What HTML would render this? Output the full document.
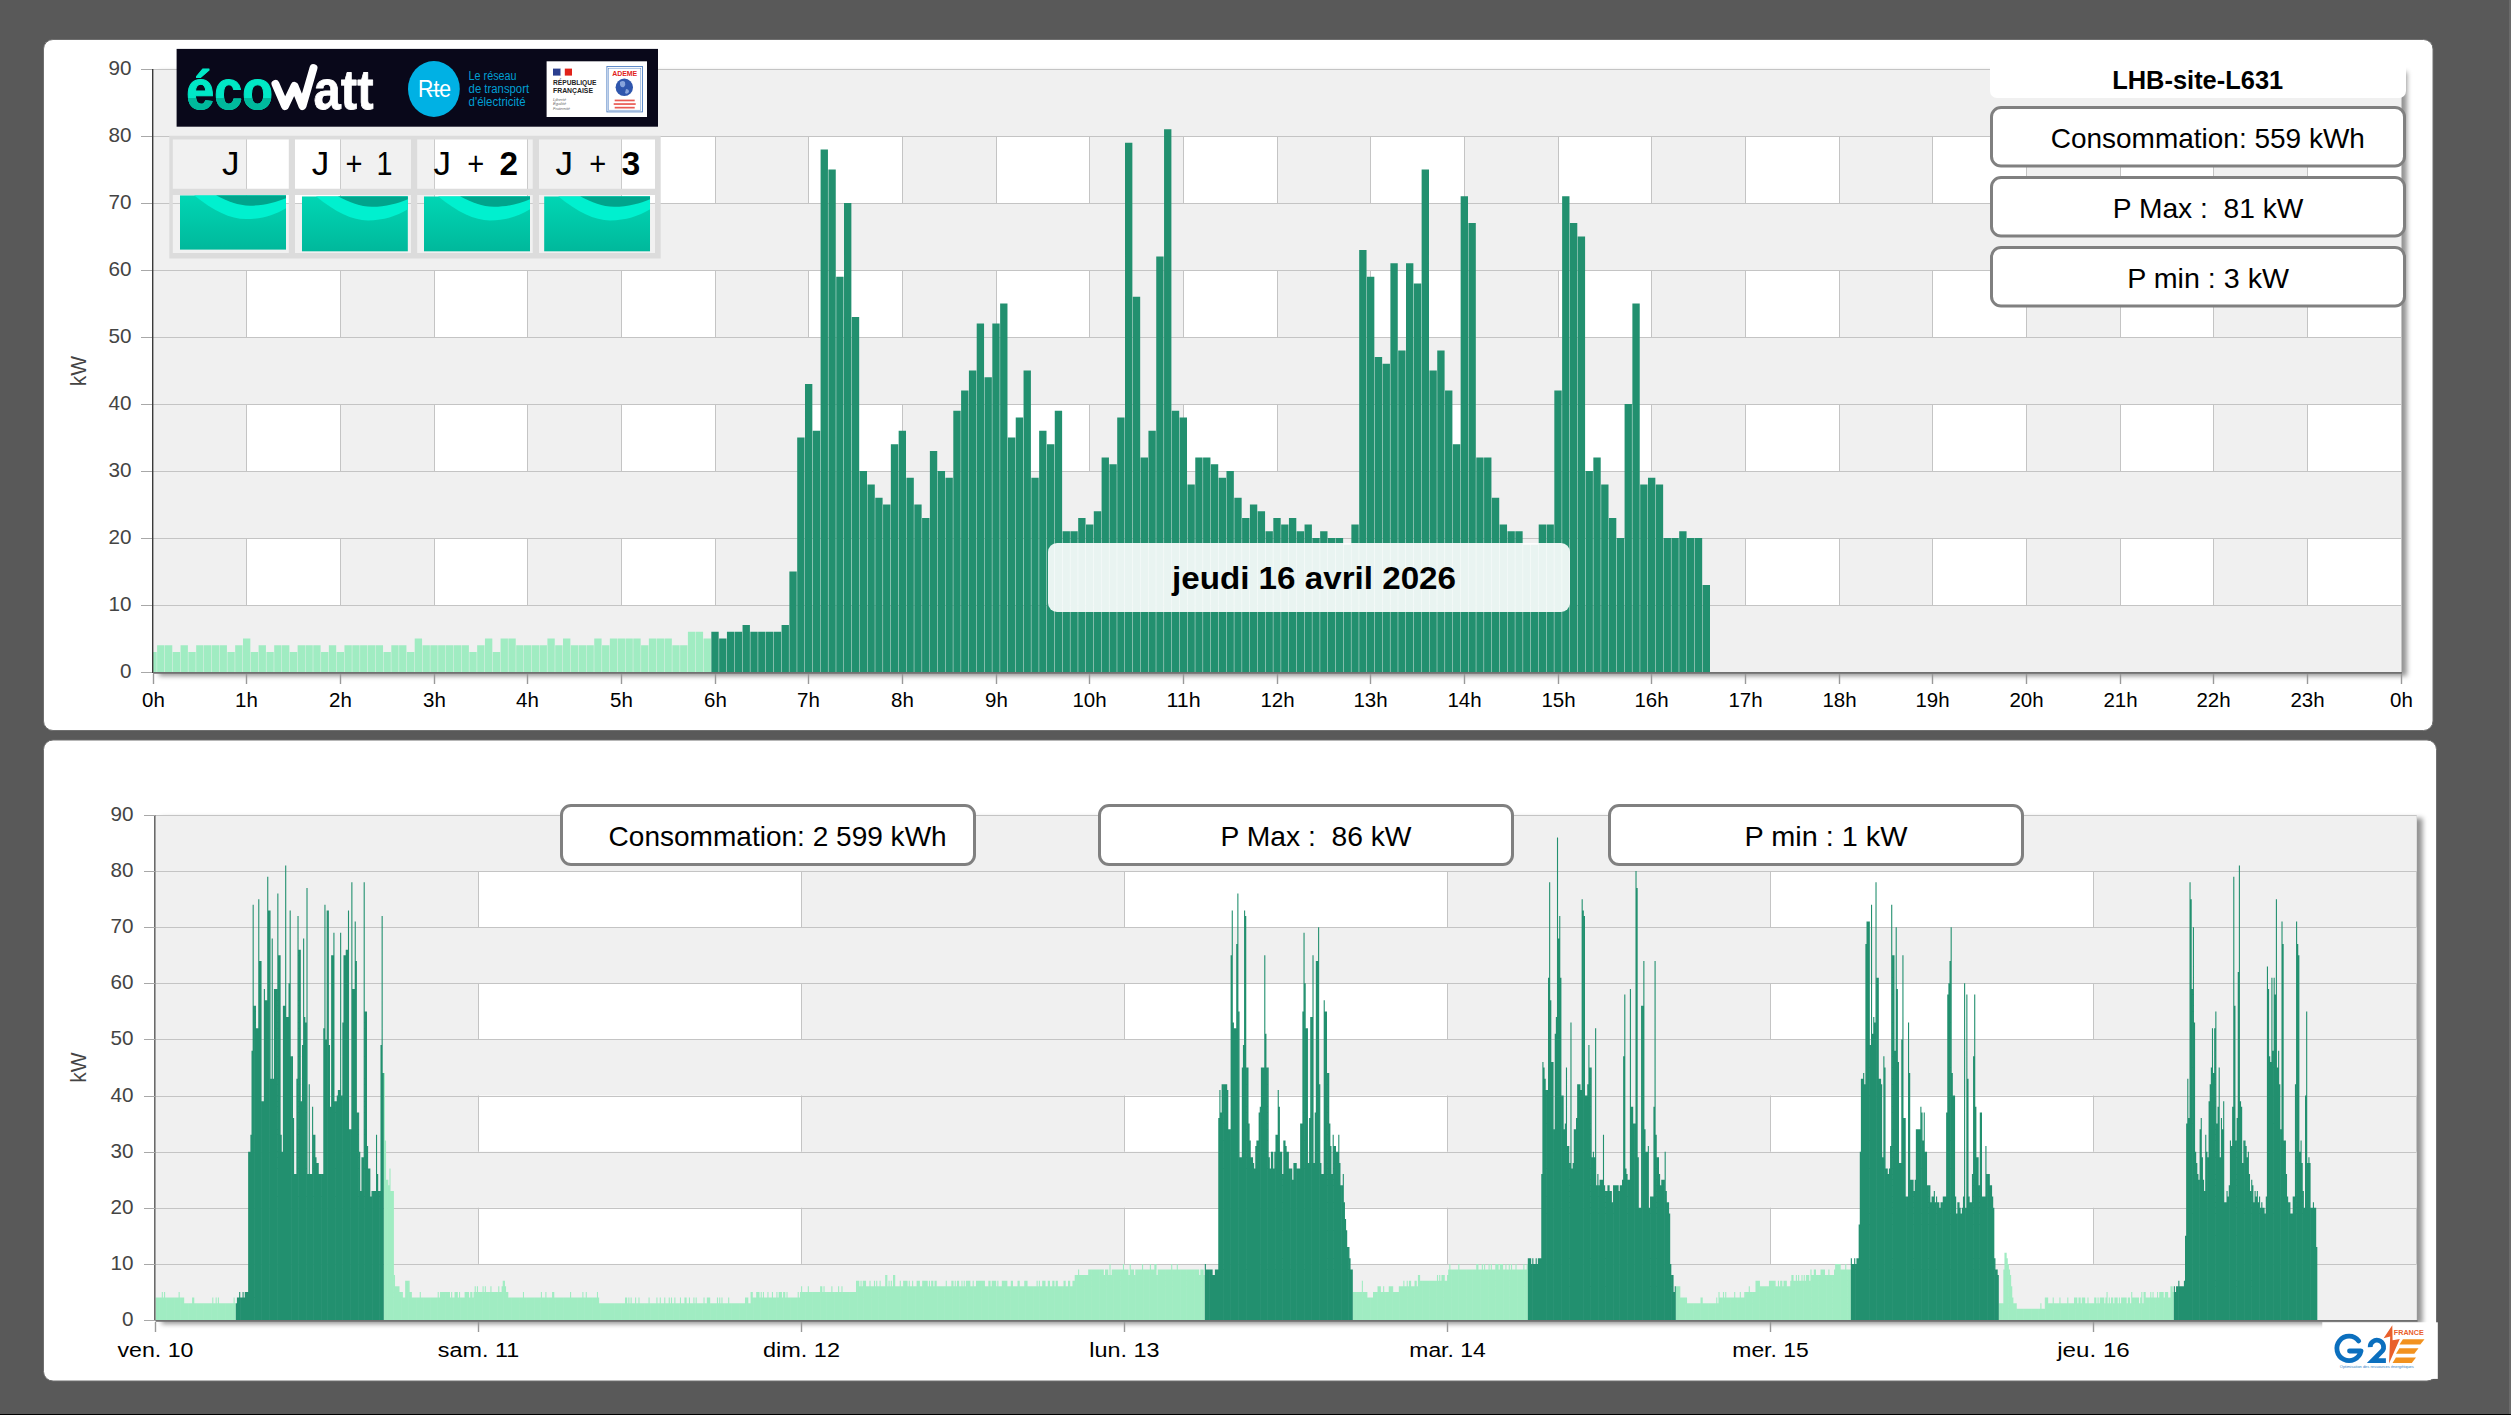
<!DOCTYPE html>
<html><head><meta charset="utf-8"><title>Dashboard</title>
<style>
html,body{margin:0;padding:0;background:#595959;width:2511px;height:1415px;overflow:hidden}
body>svg{position:absolute;left:0;top:0;display:block}
text{font-family:"Liberation Sans",sans-serif}
</style></head><body>
<svg width="2511" height="1415" viewBox="0 0 2511 1415">
<defs>
<linearGradient id="shb" x1="0" y1="0" x2="0" y2="1"><stop offset="0" stop-color="#000" stop-opacity="0.45"/><stop offset="0.35" stop-color="#000" stop-opacity="0.16"/><stop offset="1" stop-color="#000" stop-opacity="0"/></linearGradient>
<linearGradient id="shr" x1="0" y1="0" x2="1" y2="0"><stop offset="0" stop-color="#000" stop-opacity="0.45"/><stop offset="0.35" stop-color="#000" stop-opacity="0.16"/><stop offset="1" stop-color="#000" stop-opacity="0"/></linearGradient>
<linearGradient id="teal" x1="0" y1="0" x2="0" y2="1"><stop offset="0" stop-color="#00d6b4"/><stop offset="1" stop-color="#00b89b"/></linearGradient>
<filter id="blur" x="-2%" y="-5%" width="104%" height="110%"><feGaussianBlur stdDeviation="2.5"/></filter>
<clipPath id="c1"><rect x="153" y="60" width="2248" height="612.5"/></clipPath>
<clipPath id="c2"><rect x="155.6" y="800" width="2261" height="520.5"/></clipPath>
</defs>
<rect x="0" y="0" width="2511" height="1415" fill="#595959"/>
<rect x="2509" y="0" width="2" height="1415" fill="#6a6a6a"/>
<rect x="0" y="1414" width="2511" height="1" fill="#000"/>
<rect x="43.5" y="39.5" width="2389.5" height="691" rx="9.5" fill="#fff" stroke="#6f6f6f" stroke-width="1"/>
<rect x="43.5" y="740" width="2393" height="641" rx="9.5" fill="#fff" stroke="#6f6f6f" stroke-width="1"/>

<rect x="159" y="72" width="2248" height="604" fill="#000" fill-opacity="0.42" filter="url(#blur)"/>
<rect x="153" y="69" width="2248" height="603" fill="#fff"/>
<rect x="153.00" y="69" width="93.67" height="603" fill="#f0f0f0"/>
<rect x="340.33" y="69" width="93.67" height="603" fill="#f0f0f0"/>
<rect x="527.67" y="69" width="93.67" height="603" fill="#f0f0f0"/>
<rect x="715.00" y="69" width="93.67" height="603" fill="#f0f0f0"/>
<rect x="902.33" y="69" width="93.67" height="603" fill="#f0f0f0"/>
<rect x="1089.67" y="69" width="93.67" height="603" fill="#f0f0f0"/>
<rect x="1277.00" y="69" width="93.67" height="603" fill="#f0f0f0"/>
<rect x="1464.33" y="69" width="93.67" height="603" fill="#f0f0f0"/>
<rect x="1651.67" y="69" width="93.67" height="603" fill="#f0f0f0"/>
<rect x="1839.00" y="69" width="93.67" height="603" fill="#f0f0f0"/>
<rect x="2026.33" y="69" width="93.67" height="603" fill="#f0f0f0"/>
<rect x="2213.67" y="69" width="93.67" height="603" fill="#f0f0f0"/>
<line x1="246.5" y1="69" x2="246.5" y2="672" stroke="#c4c4c4" stroke-width="1"/>
<line x1="340.5" y1="69" x2="340.5" y2="672" stroke="#c4c4c4" stroke-width="1"/>
<line x1="434.5" y1="69" x2="434.5" y2="672" stroke="#c4c4c4" stroke-width="1"/>
<line x1="527.5" y1="69" x2="527.5" y2="672" stroke="#c4c4c4" stroke-width="1"/>
<line x1="621.5" y1="69" x2="621.5" y2="672" stroke="#c4c4c4" stroke-width="1"/>
<line x1="715.5" y1="69" x2="715.5" y2="672" stroke="#c4c4c4" stroke-width="1"/>
<line x1="808.5" y1="69" x2="808.5" y2="672" stroke="#c4c4c4" stroke-width="1"/>
<line x1="902.5" y1="69" x2="902.5" y2="672" stroke="#c4c4c4" stroke-width="1"/>
<line x1="996.5" y1="69" x2="996.5" y2="672" stroke="#c4c4c4" stroke-width="1"/>
<line x1="1089.5" y1="69" x2="1089.5" y2="672" stroke="#c4c4c4" stroke-width="1"/>
<line x1="1183.5" y1="69" x2="1183.5" y2="672" stroke="#c4c4c4" stroke-width="1"/>
<line x1="1277.5" y1="69" x2="1277.5" y2="672" stroke="#c4c4c4" stroke-width="1"/>
<line x1="1370.5" y1="69" x2="1370.5" y2="672" stroke="#c4c4c4" stroke-width="1"/>
<line x1="1464.5" y1="69" x2="1464.5" y2="672" stroke="#c4c4c4" stroke-width="1"/>
<line x1="1558.5" y1="69" x2="1558.5" y2="672" stroke="#c4c4c4" stroke-width="1"/>
<line x1="1651.5" y1="69" x2="1651.5" y2="672" stroke="#c4c4c4" stroke-width="1"/>
<line x1="1745.5" y1="69" x2="1745.5" y2="672" stroke="#c4c4c4" stroke-width="1"/>
<line x1="1839.5" y1="69" x2="1839.5" y2="672" stroke="#c4c4c4" stroke-width="1"/>
<line x1="1932.5" y1="69" x2="1932.5" y2="672" stroke="#c4c4c4" stroke-width="1"/>
<line x1="2026.5" y1="69" x2="2026.5" y2="672" stroke="#c4c4c4" stroke-width="1"/>
<line x1="2120.5" y1="69" x2="2120.5" y2="672" stroke="#c4c4c4" stroke-width="1"/>
<line x1="2213.5" y1="69" x2="2213.5" y2="672" stroke="#c4c4c4" stroke-width="1"/>
<line x1="2307.5" y1="69" x2="2307.5" y2="672" stroke="#c4c4c4" stroke-width="1"/>
<line x1="2401.5" y1="69" x2="2401.5" y2="672" stroke="#c4c4c4" stroke-width="1"/>
<rect x="153" y="605.00" width="2248" height="67.00" fill="#f0f0f0"/>
<rect x="153" y="471.00" width="2248" height="67.00" fill="#f0f0f0"/>
<rect x="153" y="337.00" width="2248" height="67.00" fill="#f0f0f0"/>
<rect x="153" y="203.00" width="2248" height="67.00" fill="#f0f0f0"/>
<rect x="153" y="69.00" width="2248" height="67.00" fill="#f0f0f0"/>
<line x1="153" y1="605.5" x2="2401" y2="605.5" stroke="#c4c4c4" stroke-width="1"/>
<line x1="153" y1="538.5" x2="2401" y2="538.5" stroke="#c4c4c4" stroke-width="1"/>
<line x1="153" y1="471.5" x2="2401" y2="471.5" stroke="#c4c4c4" stroke-width="1"/>
<line x1="153" y1="404.5" x2="2401" y2="404.5" stroke="#c4c4c4" stroke-width="1"/>
<line x1="153" y1="337.5" x2="2401" y2="337.5" stroke="#c4c4c4" stroke-width="1"/>
<line x1="153" y1="270.5" x2="2401" y2="270.5" stroke="#c4c4c4" stroke-width="1"/>
<line x1="153" y1="203.5" x2="2401" y2="203.5" stroke="#c4c4c4" stroke-width="1"/>
<line x1="153" y1="136.5" x2="2401" y2="136.5" stroke="#c4c4c4" stroke-width="1"/>
<line x1="153" y1="69.5" x2="2401" y2="69.5" stroke="#c4c4c4" stroke-width="1"/>
<g clip-path="url(#c1)">
<path d="M149.32 672V651.90h7.35V672zM157.13 672V645.20h7.35V672zM164.94 672V645.20h7.35V672zM172.74 672V651.90h7.35V672zM180.55 672V645.20h7.35V672zM188.35 672V651.90h7.35V672zM196.16 672V645.20h7.35V672zM203.96 672V645.20h7.35V672zM211.77 672V645.20h7.35V672zM219.57 672V645.20h7.35V672zM227.38 672V651.90h7.35V672zM235.19 672V645.20h7.35V672zM242.99 672V638.50h7.35V672zM250.80 672V651.90h7.35V672zM258.60 672V645.20h7.35V672zM266.41 672V651.90h7.35V672zM274.21 672V645.20h7.35V672zM282.02 672V645.20h7.35V672zM289.82 672V651.90h7.35V672zM297.63 672V645.20h7.35V672zM305.44 672V645.20h7.35V672zM313.24 672V645.20h7.35V672zM321.05 672V651.90h7.35V672zM328.85 672V645.20h7.35V672zM336.66 672V651.90h7.35V672zM344.46 672V645.20h7.35V672zM352.27 672V645.20h7.35V672zM360.07 672V645.20h7.35V672zM367.88 672V645.20h7.35V672zM375.69 672V645.20h7.35V672zM383.49 672V651.90h7.35V672zM391.30 672V645.20h7.35V672zM399.10 672V645.20h7.35V672zM406.91 672V651.90h7.35V672zM414.71 672V638.50h7.35V672zM422.52 672V645.20h7.35V672zM430.32 672V645.20h7.35V672zM438.13 672V645.20h7.35V672zM445.94 672V645.20h7.35V672zM453.74 672V645.20h7.35V672zM461.55 672V645.20h7.35V672zM469.35 672V651.90h7.35V672zM477.16 672V645.20h7.35V672zM484.96 672V638.50h7.35V672zM492.77 672V651.90h7.35V672zM500.57 672V638.50h7.35V672zM508.38 672V638.50h7.35V672zM516.19 672V645.20h7.35V672zM523.99 672V645.20h7.35V672zM531.80 672V645.20h7.35V672zM539.60 672V645.20h7.35V672zM547.41 672V638.50h7.35V672zM555.21 672V645.20h7.35V672zM563.02 672V638.50h7.35V672zM570.83 672V645.20h7.35V672zM578.63 672V645.20h7.35V672zM586.44 672V645.20h7.35V672zM594.24 672V638.50h7.35V672zM602.05 672V645.20h7.35V672zM609.85 672V638.50h7.35V672zM617.66 672V638.50h7.35V672zM625.46 672V638.50h7.35V672zM633.27 672V638.50h7.35V672zM641.08 672V645.20h7.35V672zM648.88 672V638.50h7.35V672zM656.69 672V638.50h7.35V672zM664.49 672V638.50h7.35V672zM672.30 672V645.20h7.35V672zM680.10 672V645.20h7.35V672zM687.91 672V631.80h7.35V672zM695.71 672V631.80h7.35V672zM703.52 672V638.50h7.35V672z" fill="#a0ecc2"/>
<path d="M711.33 672V631.80h7.35V672zM719.13 672V638.50h7.35V672zM726.94 672V631.80h7.35V672zM734.74 672V631.80h7.35V672zM742.55 672V625.10h7.35V672zM750.35 672V631.80h7.35V672zM758.16 672V631.80h7.35V672zM765.96 672V631.80h7.35V672zM773.77 672V631.80h7.35V672zM781.58 672V625.10h7.35V672zM789.38 672V571.50h7.35V672zM797.19 672V437.50h7.35V672zM804.99 672V383.90h7.35V672zM812.80 672V430.80h7.35V672zM820.60 672V149.40h7.35V672zM828.41 672V169.50h7.35V672zM836.21 672V276.70h7.35V672zM844.02 672V203.00h7.35V672zM851.83 672V316.90h7.35V672zM859.63 672V471.00h7.35V672zM867.44 672V484.40h7.35V672zM875.24 672V497.80h7.35V672zM883.05 672V504.50h7.35V672zM890.85 672V444.20h7.35V672zM898.66 672V430.80h7.35V672zM906.46 672V477.70h7.35V672zM914.27 672V504.50h7.35V672zM922.08 672V517.90h7.35V672zM929.88 672V450.90h7.35V672zM937.69 672V471.00h7.35V672zM945.49 672V477.70h7.35V672zM953.30 672V410.70h7.35V672zM961.10 672V390.60h7.35V672zM968.91 672V370.50h7.35V672zM976.71 672V323.60h7.35V672zM984.52 672V377.20h7.35V672zM992.33 672V323.60h7.35V672zM1000.13 672V303.50h7.35V672zM1007.94 672V437.50h7.35V672zM1015.74 672V417.40h7.35V672zM1023.55 672V370.50h7.35V672zM1031.35 672V477.70h7.35V672zM1039.16 672V430.80h7.35V672zM1046.96 672V444.20h7.35V672zM1054.77 672V410.70h7.35V672zM1062.58 672V531.30h7.35V672zM1070.38 672V531.30h7.35V672zM1078.19 672V517.90h7.35V672zM1085.99 672V524.60h7.35V672zM1093.80 672V511.20h7.35V672zM1101.60 672V457.60h7.35V672zM1109.41 672V464.30h7.35V672zM1117.21 672V417.40h7.35V672zM1125.02 672V142.70h7.35V672zM1132.83 672V296.80h7.35V672zM1140.63 672V457.60h7.35V672zM1148.44 672V430.80h7.35V672zM1156.24 672V256.60h7.35V672zM1164.05 672V129.30h7.35V672zM1171.85 672V410.70h7.35V672zM1179.66 672V417.40h7.35V672zM1187.46 672V484.40h7.35V672zM1195.27 672V457.60h7.35V672zM1203.08 672V457.60h7.35V672zM1210.88 672V464.30h7.35V672zM1218.69 672V477.70h7.35V672zM1226.49 672V471.00h7.35V672zM1234.30 672V497.80h7.35V672zM1242.10 672V517.90h7.35V672zM1249.91 672V504.50h7.35V672zM1257.71 672V511.20h7.35V672zM1265.52 672V531.30h7.35V672zM1273.33 672V517.90h7.35V672zM1281.13 672V524.60h7.35V672zM1288.94 672V517.90h7.35V672zM1296.74 672V531.30h7.35V672zM1304.55 672V524.60h7.35V672zM1312.35 672V538.00h7.35V672zM1320.16 672V531.30h7.35V672zM1327.96 672V538.00h7.35V672zM1335.77 672V538.00h7.35V672zM1343.58 672V544.70h7.35V672zM1351.38 672V524.60h7.35V672zM1359.19 672V249.90h7.35V672zM1366.99 672V276.70h7.35V672zM1374.80 672V357.10h7.35V672zM1382.60 672V363.80h7.35V672zM1390.41 672V263.30h7.35V672zM1398.21 672V350.40h7.35V672zM1406.02 672V263.30h7.35V672zM1413.83 672V283.40h7.35V672zM1421.63 672V169.50h7.35V672zM1429.44 672V370.50h7.35V672zM1437.24 672V350.40h7.35V672zM1445.05 672V390.60h7.35V672zM1452.85 672V444.20h7.35V672zM1460.66 672V196.30h7.35V672zM1468.46 672V223.10h7.35V672zM1476.27 672V457.60h7.35V672zM1484.08 672V457.60h7.35V672zM1491.88 672V497.80h7.35V672zM1499.69 672V524.60h7.35V672zM1507.49 672V531.30h7.35V672zM1515.30 672V531.30h7.35V672zM1523.10 672V544.70h7.35V672zM1530.91 672V544.70h7.35V672zM1538.71 672V524.60h7.35V672zM1546.52 672V524.60h7.35V672zM1554.33 672V390.60h7.35V672zM1562.13 672V196.30h7.35V672zM1569.94 672V223.10h7.35V672zM1577.74 672V236.50h7.35V672zM1585.55 672V471.00h7.35V672zM1593.35 672V457.60h7.35V672zM1601.16 672V484.40h7.35V672zM1608.96 672V517.90h7.35V672zM1616.77 672V538.00h7.35V672zM1624.58 672V404.00h7.35V672zM1632.38 672V303.50h7.35V672zM1640.19 672V484.40h7.35V672zM1647.99 672V477.70h7.35V672zM1655.80 672V484.40h7.35V672zM1663.60 672V538.00h7.35V672zM1671.41 672V538.00h7.35V672zM1679.21 672V531.30h7.35V672zM1687.02 672V538.00h7.35V672zM1694.83 672V538.00h7.35V672zM1702.63 672V584.90h7.35V672z" fill="#22906f"/>
</g>
<line x1="152.7" y1="69" x2="152.7" y2="673" stroke="#3a3a3a" stroke-width="1.4"/>
<line x1="153" y1="672.9" x2="2402" y2="672.9" stroke="#707070" stroke-width="1.8"/>
<line x1="141" y1="672.5" x2="152" y2="672.5" stroke="#a8a8a8" stroke-width="1"/>
<text x="131.5" y="678.3" font-size="19.8" fill="#444" text-anchor="end" textLength="11.5" lengthAdjust="spacingAndGlyphs">0</text>
<line x1="141" y1="605.5" x2="152" y2="605.5" stroke="#a8a8a8" stroke-width="1"/>
<text x="131.5" y="611.3" font-size="19.8" fill="#444" text-anchor="end" textLength="23" lengthAdjust="spacingAndGlyphs">10</text>
<line x1="141" y1="538.5" x2="152" y2="538.5" stroke="#a8a8a8" stroke-width="1"/>
<text x="131.5" y="544.3" font-size="19.8" fill="#444" text-anchor="end" textLength="23" lengthAdjust="spacingAndGlyphs">20</text>
<line x1="141" y1="471.5" x2="152" y2="471.5" stroke="#a8a8a8" stroke-width="1"/>
<text x="131.5" y="477.3" font-size="19.8" fill="#444" text-anchor="end" textLength="23" lengthAdjust="spacingAndGlyphs">30</text>
<line x1="141" y1="404.5" x2="152" y2="404.5" stroke="#a8a8a8" stroke-width="1"/>
<text x="131.5" y="410.3" font-size="19.8" fill="#444" text-anchor="end" textLength="23" lengthAdjust="spacingAndGlyphs">40</text>
<line x1="141" y1="337.5" x2="152" y2="337.5" stroke="#a8a8a8" stroke-width="1"/>
<text x="131.5" y="343.3" font-size="19.8" fill="#444" text-anchor="end" textLength="23" lengthAdjust="spacingAndGlyphs">50</text>
<line x1="141" y1="270.5" x2="152" y2="270.5" stroke="#a8a8a8" stroke-width="1"/>
<text x="131.5" y="276.3" font-size="19.8" fill="#444" text-anchor="end" textLength="23" lengthAdjust="spacingAndGlyphs">60</text>
<line x1="141" y1="203.5" x2="152" y2="203.5" stroke="#a8a8a8" stroke-width="1"/>
<text x="131.5" y="209.3" font-size="19.8" fill="#444" text-anchor="end" textLength="23" lengthAdjust="spacingAndGlyphs">70</text>
<line x1="141" y1="136.5" x2="152" y2="136.5" stroke="#a8a8a8" stroke-width="1"/>
<text x="131.5" y="142.3" font-size="19.8" fill="#444" text-anchor="end" textLength="23" lengthAdjust="spacingAndGlyphs">80</text>
<line x1="141" y1="69.5" x2="152" y2="69.5" stroke="#a8a8a8" stroke-width="1"/>
<text x="131.5" y="75.3" font-size="19.8" fill="#444" text-anchor="end" textLength="23" lengthAdjust="spacingAndGlyphs">90</text>
<text transform="translate(86,371) rotate(-90)" font-size="22" fill="#444" text-anchor="middle" textLength="30.5" lengthAdjust="spacingAndGlyphs">kW</text>
<line x1="153.5" y1="674" x2="153.5" y2="684" stroke="#999" stroke-width="1.4"/>
<text x="153.5" y="706.9" font-size="19.6" fill="#000" text-anchor="middle" textLength="22.8" lengthAdjust="spacingAndGlyphs">0h</text>
<line x1="246.5" y1="674" x2="246.5" y2="684" stroke="#999" stroke-width="1.4"/>
<text x="246.5" y="706.9" font-size="19.6" fill="#000" text-anchor="middle" textLength="22.8" lengthAdjust="spacingAndGlyphs">1h</text>
<line x1="340.5" y1="674" x2="340.5" y2="684" stroke="#999" stroke-width="1.4"/>
<text x="340.5" y="706.9" font-size="19.6" fill="#000" text-anchor="middle" textLength="22.8" lengthAdjust="spacingAndGlyphs">2h</text>
<line x1="434.5" y1="674" x2="434.5" y2="684" stroke="#999" stroke-width="1.4"/>
<text x="434.5" y="706.9" font-size="19.6" fill="#000" text-anchor="middle" textLength="22.8" lengthAdjust="spacingAndGlyphs">3h</text>
<line x1="527.5" y1="674" x2="527.5" y2="684" stroke="#999" stroke-width="1.4"/>
<text x="527.5" y="706.9" font-size="19.6" fill="#000" text-anchor="middle" textLength="22.8" lengthAdjust="spacingAndGlyphs">4h</text>
<line x1="621.5" y1="674" x2="621.5" y2="684" stroke="#999" stroke-width="1.4"/>
<text x="621.5" y="706.9" font-size="19.6" fill="#000" text-anchor="middle" textLength="22.8" lengthAdjust="spacingAndGlyphs">5h</text>
<line x1="715.5" y1="674" x2="715.5" y2="684" stroke="#999" stroke-width="1.4"/>
<text x="715.5" y="706.9" font-size="19.6" fill="#000" text-anchor="middle" textLength="22.8" lengthAdjust="spacingAndGlyphs">6h</text>
<line x1="808.5" y1="674" x2="808.5" y2="684" stroke="#999" stroke-width="1.4"/>
<text x="808.5" y="706.9" font-size="19.6" fill="#000" text-anchor="middle" textLength="22.8" lengthAdjust="spacingAndGlyphs">7h</text>
<line x1="902.5" y1="674" x2="902.5" y2="684" stroke="#999" stroke-width="1.4"/>
<text x="902.5" y="706.9" font-size="19.6" fill="#000" text-anchor="middle" textLength="22.8" lengthAdjust="spacingAndGlyphs">8h</text>
<line x1="996.5" y1="674" x2="996.5" y2="684" stroke="#999" stroke-width="1.4"/>
<text x="996.5" y="706.9" font-size="19.6" fill="#000" text-anchor="middle" textLength="22.8" lengthAdjust="spacingAndGlyphs">9h</text>
<line x1="1089.5" y1="674" x2="1089.5" y2="684" stroke="#999" stroke-width="1.4"/>
<text x="1089.5" y="706.9" font-size="19.6" fill="#000" text-anchor="middle" textLength="34.2" lengthAdjust="spacingAndGlyphs">10h</text>
<line x1="1183.5" y1="674" x2="1183.5" y2="684" stroke="#999" stroke-width="1.4"/>
<text x="1183.5" y="706.9" font-size="19.6" fill="#000" text-anchor="middle" textLength="34.2" lengthAdjust="spacingAndGlyphs">11h</text>
<line x1="1277.5" y1="674" x2="1277.5" y2="684" stroke="#999" stroke-width="1.4"/>
<text x="1277.5" y="706.9" font-size="19.6" fill="#000" text-anchor="middle" textLength="34.2" lengthAdjust="spacingAndGlyphs">12h</text>
<line x1="1370.5" y1="674" x2="1370.5" y2="684" stroke="#999" stroke-width="1.4"/>
<text x="1370.5" y="706.9" font-size="19.6" fill="#000" text-anchor="middle" textLength="34.2" lengthAdjust="spacingAndGlyphs">13h</text>
<line x1="1464.5" y1="674" x2="1464.5" y2="684" stroke="#999" stroke-width="1.4"/>
<text x="1464.5" y="706.9" font-size="19.6" fill="#000" text-anchor="middle" textLength="34.2" lengthAdjust="spacingAndGlyphs">14h</text>
<line x1="1558.5" y1="674" x2="1558.5" y2="684" stroke="#999" stroke-width="1.4"/>
<text x="1558.5" y="706.9" font-size="19.6" fill="#000" text-anchor="middle" textLength="34.2" lengthAdjust="spacingAndGlyphs">15h</text>
<line x1="1651.5" y1="674" x2="1651.5" y2="684" stroke="#999" stroke-width="1.4"/>
<text x="1651.5" y="706.9" font-size="19.6" fill="#000" text-anchor="middle" textLength="34.2" lengthAdjust="spacingAndGlyphs">16h</text>
<line x1="1745.5" y1="674" x2="1745.5" y2="684" stroke="#999" stroke-width="1.4"/>
<text x="1745.5" y="706.9" font-size="19.6" fill="#000" text-anchor="middle" textLength="34.2" lengthAdjust="spacingAndGlyphs">17h</text>
<line x1="1839.5" y1="674" x2="1839.5" y2="684" stroke="#999" stroke-width="1.4"/>
<text x="1839.5" y="706.9" font-size="19.6" fill="#000" text-anchor="middle" textLength="34.2" lengthAdjust="spacingAndGlyphs">18h</text>
<line x1="1932.5" y1="674" x2="1932.5" y2="684" stroke="#999" stroke-width="1.4"/>
<text x="1932.5" y="706.9" font-size="19.6" fill="#000" text-anchor="middle" textLength="34.2" lengthAdjust="spacingAndGlyphs">19h</text>
<line x1="2026.5" y1="674" x2="2026.5" y2="684" stroke="#999" stroke-width="1.4"/>
<text x="2026.5" y="706.9" font-size="19.6" fill="#000" text-anchor="middle" textLength="34.2" lengthAdjust="spacingAndGlyphs">20h</text>
<line x1="2120.5" y1="674" x2="2120.5" y2="684" stroke="#999" stroke-width="1.4"/>
<text x="2120.5" y="706.9" font-size="19.6" fill="#000" text-anchor="middle" textLength="34.2" lengthAdjust="spacingAndGlyphs">21h</text>
<line x1="2213.5" y1="674" x2="2213.5" y2="684" stroke="#999" stroke-width="1.4"/>
<text x="2213.5" y="706.9" font-size="19.6" fill="#000" text-anchor="middle" textLength="34.2" lengthAdjust="spacingAndGlyphs">22h</text>
<line x1="2307.5" y1="674" x2="2307.5" y2="684" stroke="#999" stroke-width="1.4"/>
<text x="2307.5" y="706.9" font-size="19.6" fill="#000" text-anchor="middle" textLength="34.2" lengthAdjust="spacingAndGlyphs">23h</text>
<line x1="2401.5" y1="674" x2="2401.5" y2="684" stroke="#999" stroke-width="1.4"/>
<text x="2401.5" y="706.9" font-size="19.6" fill="#000" text-anchor="middle" textLength="22.8" lengthAdjust="spacingAndGlyphs">0h</text>
<rect x="1048" y="543" width="522" height="69" rx="9" fill="#fff" fill-opacity="0.9"/>
<text x="1314" y="588.5" font-size="31" font-weight="bold" fill="#000" text-anchor="middle" textLength="284" lengthAdjust="spacingAndGlyphs">jeudi 16 avril 2026</text>
<rect x="1990" y="60" width="416" height="38" rx="7" fill="#fff"/>
<text x="2197.7" y="88.7" font-size="25.5" font-weight="bold" fill="#000" text-anchor="middle" textLength="171" lengthAdjust="spacingAndGlyphs">LHB-site-L631</text>
<rect x="1991.5" y="107.5" width="413" height="58.5" rx="9.5" fill="#fff" stroke="#808080" stroke-width="3"/>
<text x="2050.7" y="147.7" font-size="28" fill="#000" textLength="314.2" lengthAdjust="spacingAndGlyphs" xml:space="preserve">Consommation: 559 kWh</text>
<rect x="1991.5" y="177.5" width="413" height="58.5" rx="9.5" fill="#fff" stroke="#808080" stroke-width="3"/>
<text x="2112.8" y="217.6" font-size="28" fill="#000" textLength="190.6" lengthAdjust="spacingAndGlyphs" xml:space="preserve">P Max :  81 kW</text>
<rect x="1991.5" y="247.5" width="413" height="58.5" rx="9.5" fill="#fff" stroke="#808080" stroke-width="3"/>
<text x="2127.2" y="287.6" font-size="28" fill="#000" textLength="161.8" lengthAdjust="spacingAndGlyphs" xml:space="preserve">P min : 3 kW</text>
<g>
<rect x="176.6" y="48.9" width="481.4" height="77.8" fill="#09081a"/>
<text x="186.3" y="109.3" font-size="55" font-weight="bold" fill="#00e8c6" stroke="#00e8c6" stroke-width="1.1" stroke-linejoin="round" textLength="86.5" lengthAdjust="spacingAndGlyphs">éco</text>
<clipPath id="ecl"><rect x="186" y="98" width="90" height="14"/></clipPath>
<text x="186.3" y="109.3" font-size="55" font-weight="bold" fill="#00b99c" stroke="#00b99c" stroke-width="1.1" stroke-linejoin="round" textLength="86.5" lengthAdjust="spacingAndGlyphs" clip-path="url(#ecl)">éco</text>
<path d="M275.5 84 L285 106 L294.5 86 L302.5 106 L313.5 68" fill="none" stroke="#fff" stroke-width="8" stroke-linecap="round" stroke-linejoin="round"/>
<text x="313.5" y="109.3" font-size="55" font-weight="bold" fill="#fff" stroke="#fff" stroke-width="0.8" stroke-linejoin="round" textLength="60" lengthAdjust="spacingAndGlyphs">att</text>
<ellipse cx="433.9" cy="89" rx="25.9" ry="28" fill="#00b1e4"/>
<text x="434.6" y="96.6" font-size="24.5" fill="#fff" text-anchor="middle" textLength="33" lengthAdjust="spacingAndGlyphs">Rte</text>
<line x1="427" y1="90.6" x2="441" y2="90.6" stroke="#fff" stroke-width="1.5"/>
<text x="468.6" y="79.6" font-size="12.5" fill="#009fd3" textLength="48" lengthAdjust="spacingAndGlyphs">Le réseau</text>
<text x="468.6" y="92.6" font-size="12.5" fill="#009fd3" textLength="60.5" lengthAdjust="spacingAndGlyphs">de transport</text>
<text x="468.6" y="105.6" font-size="12.5" fill="#009fd3" textLength="57" lengthAdjust="spacingAndGlyphs">d'électricité</text>
<rect x="546.6" y="61.3" width="100.4" height="55.7" fill="#fff"/>
<rect x="553" y="68.6" width="7.7" height="7" fill="#2b3f8f"/><rect x="560.7" y="68.6" width="4.1" height="7" fill="#fff"/><rect x="564.8" y="68.6" width="7.2" height="7" fill="#e1231a"/>
<text x="553" y="84.6" font-size="7.6" font-weight="bold" fill="#222" textLength="43.5" lengthAdjust="spacingAndGlyphs">RÉPUBLIQUE</text>
<text x="553" y="92.9" font-size="7.6" font-weight="bold" fill="#222" textLength="40" lengthAdjust="spacingAndGlyphs">FRANÇAISE</text>
<text x="553" y="100.5" font-size="4" font-style="italic" fill="#666" textLength="13" lengthAdjust="spacingAndGlyphs">Liberté</text>
<text x="553" y="105.1" font-size="4" font-style="italic" fill="#666" textLength="13" lengthAdjust="spacingAndGlyphs">Égalité</text>
<text x="553" y="109.7" font-size="4" font-style="italic" fill="#666" textLength="17" lengthAdjust="spacingAndGlyphs">Fraternité</text>
<rect x="606.9" y="66.5" width="35.6" height="45.4" fill="#fff" stroke="#4f7fc4" stroke-width="0.9"/>
<rect x="608.6" y="68.2" width="32.2" height="42" fill="none" stroke="#4f7fc4" stroke-width="0.5"/>
<text x="624.7" y="76" font-size="6.6" font-weight="bold" fill="#e1231a" text-anchor="middle" textLength="25" lengthAdjust="spacingAndGlyphs">ADEME</text>
<circle cx="624.3" cy="87.3" r="8.7" fill="#2f56ad"/>
<path d="M620 82q3-2 5 0q1 3-1 5q-3 1-4-2zM626 89q3 0 3 3q-2 3-4 1z" fill="#9db7e6" opacity="0.8"/>
<rect x="614.7" y="99.6" width="20" height="1.7" fill="#e1231a" opacity="0.75"/>
<rect x="613.7" y="103.2" width="22" height="1.7" fill="#e1231a" opacity="0.75"/>
<rect x="614.7" y="106.8" width="20" height="1.7" fill="#e1231a" opacity="0.75"/>
</g>
<path d="M169.3 135.7H660.7V258.5H169.3zM172.8 139.4H288.8V188.7H172.8zM172.8 194.9H288.8V252.9H172.8zM295 139.4H411V188.7H295zM295 194.9H411V252.9H295zM417.2 139.4H532.7V188.7H417.2zM417.2 194.9H532.7V252.9H417.2zM539 139.4H655V188.7H539zM539 194.9H655V252.9H539z" fill="#dcdcdc" fill-rule="evenodd"/>
<rect x="172.8" y="139.4" width="116.0" height="49.29999999999998" fill="#fff" fill-opacity="0.12"/>
<rect x="172.8" y="194.9" width="116.0" height="58.0" fill="#fff" fill-opacity="0.12"/>
<rect x="295" y="139.4" width="116" height="49.29999999999998" fill="#fff" fill-opacity="0.12"/>
<rect x="295" y="194.9" width="116" height="58.0" fill="#fff" fill-opacity="0.12"/>
<rect x="417.2" y="139.4" width="115.50000000000006" height="49.29999999999998" fill="#fff" fill-opacity="0.12"/>
<rect x="417.2" y="194.9" width="115.50000000000006" height="58.0" fill="#fff" fill-opacity="0.12"/>
<rect x="539" y="139.4" width="116" height="49.29999999999998" fill="#fff" fill-opacity="0.12"/>
<rect x="539" y="194.9" width="116" height="58.0" fill="#fff" fill-opacity="0.12"/>
<text x="222" y="175.4" font-size="34" fill="#000" textLength="17.5" lengthAdjust="spacingAndGlyphs">J</text>
<text x="311.8" y="175.4" font-size="34" fill="#000" textLength="17.5" lengthAdjust="spacingAndGlyphs">J</text>
<text x="345.5" y="175.4" font-size="34" fill="#000" textLength="17" lengthAdjust="spacingAndGlyphs">+</text>
<text x="376.5" y="175.4" font-size="34" fill="#000" textLength="16" lengthAdjust="spacingAndGlyphs">1</text>
<text x="433.4" y="175.4" font-size="34" fill="#000" textLength="17.5" lengthAdjust="spacingAndGlyphs">J</text>
<text x="467.2" y="175.4" font-size="34" fill="#000" textLength="17" lengthAdjust="spacingAndGlyphs">+</text>
<text x="499.5" y="175.4" font-size="34" font-weight="bold" fill="#000" textLength="18.5" lengthAdjust="spacingAndGlyphs">2</text>
<text x="555.6" y="175.4" font-size="34" fill="#000" textLength="17.5" lengthAdjust="spacingAndGlyphs">J</text>
<text x="589.3" y="175.4" font-size="34" fill="#000" textLength="17" lengthAdjust="spacingAndGlyphs">+</text>
<text x="621.8" y="175.4" font-size="34" font-weight="bold" fill="#000" textLength="18.5" lengthAdjust="spacingAndGlyphs">3</text>
<svg x="180" y="195.3" width="106" height="54.5" viewBox="0 0 106 55" preserveAspectRatio="none">
<rect width="106" height="55" fill="url(#teal)"/>
<path d="M14 0 C34 16 50 24 66 24 C82 24 94 20 106 13 L106 0z" fill="#00f0cf"/>
<path d="M36 0 C48 6 58 10.5 70 10.5 C84 10.5 96 7 106 3 L106 0z" fill="#00a48c"/>
</svg>
<svg x="301.9" y="196.3" width="106" height="55.3" viewBox="0 0 106 55" preserveAspectRatio="none">
<rect width="106" height="55" fill="url(#teal)"/>
<path d="M14 0 C34 16 50 24 66 24 C82 24 94 20 106 13 L106 0z" fill="#00f0cf"/>
<path d="M36 0 C48 6 58 10.5 70 10.5 C84 10.5 96 7 106 3 L106 0z" fill="#00a48c"/>
</svg>
<svg x="424" y="196.3" width="106" height="55.3" viewBox="0 0 106 55" preserveAspectRatio="none">
<rect width="106" height="55" fill="url(#teal)"/>
<path d="M14 0 C34 16 50 24 66 24 C82 24 94 20 106 13 L106 0z" fill="#00f0cf"/>
<path d="M36 0 C48 6 58 10.5 70 10.5 C84 10.5 96 7 106 3 L106 0z" fill="#00a48c"/>
</svg>
<svg x="544.1" y="196.3" width="106" height="55.3" viewBox="0 0 106 55" preserveAspectRatio="none">
<rect width="106" height="55" fill="url(#teal)"/>
<path d="M14 0 C34 16 50 24 66 24 C82 24 94 20 106 13 L106 0z" fill="#00f0cf"/>
<path d="M36 0 C48 6 58 10.5 70 10.5 C84 10.5 96 7 106 3 L106 0z" fill="#00a48c"/>
</svg>
<rect x="161.6" y="818" width="2261.0" height="506" fill="#000" fill-opacity="0.42" filter="url(#blur)"/>
<rect x="155.6" y="815" width="2261.0" height="505" fill="#fff"/>
<rect x="155.60" y="815" width="323.00" height="505" fill="#f0f0f0"/>
<rect x="801.60" y="815" width="323.00" height="505" fill="#f0f0f0"/>
<rect x="1447.60" y="815" width="323.00" height="505" fill="#f0f0f0"/>
<rect x="2093.60" y="815" width="323.00" height="505" fill="#f0f0f0"/>
<line x1="478.5" y1="815" x2="478.5" y2="1320" stroke="#c4c4c4" stroke-width="1"/>
<line x1="801.5" y1="815" x2="801.5" y2="1320" stroke="#c4c4c4" stroke-width="1"/>
<line x1="1124.5" y1="815" x2="1124.5" y2="1320" stroke="#c4c4c4" stroke-width="1"/>
<line x1="1447.5" y1="815" x2="1447.5" y2="1320" stroke="#c4c4c4" stroke-width="1"/>
<line x1="1770.5" y1="815" x2="1770.5" y2="1320" stroke="#c4c4c4" stroke-width="1"/>
<line x1="2093.5" y1="815" x2="2093.5" y2="1320" stroke="#c4c4c4" stroke-width="1"/>
<line x1="2416.5" y1="815" x2="2416.5" y2="1320" stroke="#c4c4c4" stroke-width="1"/>
<rect x="155.6" y="1263.89" width="2261.0" height="56.11" fill="#f0f0f0"/>
<rect x="155.6" y="1151.67" width="2261.0" height="56.11" fill="#f0f0f0"/>
<rect x="155.6" y="1039.44" width="2261.0" height="56.11" fill="#f0f0f0"/>
<rect x="155.6" y="927.22" width="2261.0" height="56.11" fill="#f0f0f0"/>
<rect x="155.6" y="815.00" width="2261.0" height="56.11" fill="#f0f0f0"/>
<line x1="155.6" y1="1264.5" x2="2416.6" y2="1264.5" stroke="#c4c4c4" stroke-width="1"/>
<line x1="155.6" y1="1208.5" x2="2416.6" y2="1208.5" stroke="#c4c4c4" stroke-width="1"/>
<line x1="155.6" y1="1152.5" x2="2416.6" y2="1152.5" stroke="#c4c4c4" stroke-width="1"/>
<line x1="155.6" y1="1096.5" x2="2416.6" y2="1096.5" stroke="#c4c4c4" stroke-width="1"/>
<line x1="155.6" y1="1039.5" x2="2416.6" y2="1039.5" stroke="#c4c4c4" stroke-width="1"/>
<line x1="155.6" y1="983.5" x2="2416.6" y2="983.5" stroke="#c4c4c4" stroke-width="1"/>
<line x1="155.6" y1="927.5" x2="2416.6" y2="927.5" stroke="#c4c4c4" stroke-width="1"/>
<line x1="155.6" y1="871.5" x2="2416.6" y2="871.5" stroke="#c4c4c4" stroke-width="1"/>
<line x1="155.6" y1="815.5" x2="2416.6" y2="815.5" stroke="#c4c4c4" stroke-width="1"/>
<g clip-path="url(#c2)">
<path d="M155.05 1320V1297.56h1.10V1320zM156.17 1320V1297.56h1.10V1320zM157.29 1320V1297.56h1.10V1320zM158.41 1320V1297.56h1.10V1320zM159.54 1320V1297.56h1.10V1320zM160.66 1320V1297.56h1.10V1320zM161.78 1320V1291.94h1.10V1320zM162.90 1320V1297.56h1.10V1320zM164.02 1320V1291.94h1.10V1320zM165.14 1320V1297.56h1.10V1320zM166.27 1320V1297.56h1.10V1320zM167.39 1320V1297.56h1.10V1320zM168.51 1320V1297.56h1.10V1320zM169.63 1320V1297.56h1.10V1320zM170.75 1320V1297.56h1.10V1320zM171.87 1320V1297.56h1.10V1320zM172.99 1320V1297.56h1.10V1320zM174.12 1320V1297.56h1.10V1320zM175.24 1320V1297.56h1.10V1320zM176.36 1320V1297.56h1.10V1320zM177.48 1320V1297.56h1.10V1320zM178.60 1320V1291.94h1.10V1320zM179.72 1320V1297.56h1.10V1320zM180.85 1320V1297.56h1.10V1320zM181.97 1320V1297.56h1.10V1320zM183.09 1320V1297.56h1.10V1320zM184.21 1320V1303.17h1.10V1320zM185.33 1320V1303.17h1.10V1320zM186.45 1320V1303.17h1.10V1320zM187.57 1320V1303.17h1.10V1320zM188.70 1320V1303.17h1.10V1320zM189.82 1320V1303.17h1.10V1320zM190.94 1320V1303.17h1.10V1320zM192.06 1320V1297.56h1.10V1320zM193.18 1320V1297.56h1.10V1320zM194.30 1320V1303.17h1.10V1320zM195.42 1320V1303.17h1.10V1320zM196.55 1320V1303.17h1.10V1320zM197.67 1320V1303.17h1.10V1320zM198.79 1320V1303.17h1.10V1320zM199.91 1320V1303.17h1.10V1320zM201.03 1320V1303.17h1.10V1320zM202.15 1320V1303.17h1.10V1320zM203.28 1320V1303.17h1.10V1320zM204.40 1320V1303.17h1.10V1320zM205.52 1320V1303.17h1.10V1320zM206.64 1320V1303.17h1.10V1320zM207.76 1320V1303.17h1.10V1320zM208.88 1320V1303.17h1.10V1320zM210.00 1320V1303.17h1.10V1320zM211.13 1320V1303.17h1.10V1320zM212.25 1320V1297.56h1.10V1320zM213.37 1320V1303.17h1.10V1320zM214.49 1320V1303.17h1.10V1320zM215.61 1320V1297.56h1.10V1320zM216.73 1320V1303.17h1.10V1320zM217.86 1320V1297.56h1.10V1320zM218.98 1320V1303.17h1.10V1320zM220.10 1320V1303.17h1.10V1320zM221.22 1320V1303.17h1.10V1320zM222.34 1320V1303.17h1.10V1320zM223.46 1320V1303.17h1.10V1320zM224.58 1320V1303.17h1.10V1320zM225.71 1320V1303.17h1.10V1320zM226.83 1320V1303.17h1.10V1320zM227.95 1320V1303.17h1.10V1320zM229.07 1320V1303.17h1.10V1320zM230.19 1320V1303.17h1.10V1320zM231.31 1320V1303.17h1.10V1320zM232.44 1320V1303.17h1.10V1320zM233.56 1320V1297.56h1.10V1320zM234.68 1320V1303.17h1.10V1320zM383.84 1320V1073.11h1.10V1320zM384.96 1320V1140.44h1.10V1320zM386.08 1320V1179.72h1.10V1320zM387.21 1320V1179.72h1.10V1320zM388.33 1320V1185.33h1.10V1320zM389.45 1320V1168.50h1.10V1320zM390.57 1320V1190.94h1.10V1320zM391.69 1320V1190.94h1.10V1320zM392.81 1320V1190.94h1.10V1320zM393.94 1320V1275.11h1.10V1320zM395.06 1320V1286.33h1.10V1320zM396.18 1320V1286.33h1.10V1320zM397.30 1320V1286.33h1.10V1320zM398.42 1320V1286.33h1.10V1320zM399.54 1320V1291.94h1.10V1320zM400.66 1320V1291.94h1.10V1320zM401.79 1320V1291.94h1.10V1320zM402.91 1320V1297.56h1.10V1320zM404.03 1320V1297.56h1.10V1320zM405.15 1320V1280.72h1.10V1320zM406.27 1320V1280.72h1.10V1320zM407.39 1320V1280.72h1.10V1320zM408.52 1320V1280.72h1.10V1320zM409.64 1320V1291.94h1.10V1320zM410.76 1320V1291.94h1.10V1320zM411.88 1320V1297.56h1.10V1320zM413.00 1320V1297.56h1.10V1320zM414.12 1320V1297.56h1.10V1320zM415.24 1320V1297.56h1.10V1320zM416.37 1320V1297.56h1.10V1320zM417.49 1320V1297.56h1.10V1320zM418.61 1320V1297.56h1.10V1320zM419.73 1320V1291.94h1.10V1320zM420.85 1320V1297.56h1.10V1320zM421.97 1320V1297.56h1.10V1320zM423.10 1320V1297.56h1.10V1320zM424.22 1320V1297.56h1.10V1320zM425.34 1320V1297.56h1.10V1320zM426.46 1320V1297.56h1.10V1320zM427.58 1320V1297.56h1.10V1320zM428.70 1320V1297.56h1.10V1320zM429.82 1320V1297.56h1.10V1320zM430.95 1320V1297.56h1.10V1320zM432.07 1320V1297.56h1.10V1320zM433.19 1320V1297.56h1.10V1320zM434.31 1320V1297.56h1.10V1320zM435.43 1320V1297.56h1.10V1320zM436.55 1320V1297.56h1.10V1320zM437.68 1320V1291.94h1.10V1320zM438.80 1320V1297.56h1.10V1320zM439.92 1320V1291.94h1.10V1320zM441.04 1320V1291.94h1.10V1320zM442.16 1320V1291.94h1.10V1320zM443.28 1320V1291.94h1.10V1320zM444.40 1320V1291.94h1.10V1320zM445.53 1320V1291.94h1.10V1320zM446.65 1320V1291.94h1.10V1320zM447.77 1320V1291.94h1.10V1320zM448.89 1320V1291.94h1.10V1320zM450.01 1320V1297.56h1.10V1320zM451.13 1320V1291.94h1.10V1320zM452.25 1320V1297.56h1.10V1320zM453.38 1320V1297.56h1.10V1320zM454.50 1320V1291.94h1.10V1320zM455.62 1320V1291.94h1.10V1320zM456.74 1320V1291.94h1.10V1320zM457.86 1320V1297.56h1.10V1320zM458.98 1320V1291.94h1.10V1320zM460.11 1320V1297.56h1.10V1320zM461.23 1320V1297.56h1.10V1320zM462.35 1320V1297.56h1.10V1320zM463.47 1320V1297.56h1.10V1320zM464.59 1320V1291.94h1.10V1320zM465.71 1320V1291.94h1.10V1320zM466.83 1320V1291.94h1.10V1320zM467.96 1320V1291.94h1.10V1320zM469.08 1320V1297.56h1.10V1320zM470.20 1320V1291.94h1.10V1320zM471.32 1320V1291.94h1.10V1320zM472.44 1320V1297.56h1.10V1320zM473.56 1320V1291.94h1.10V1320zM474.69 1320V1286.33h1.10V1320zM475.81 1320V1291.94h1.10V1320zM476.93 1320V1286.33h1.10V1320zM478.05 1320V1291.94h1.10V1320zM479.17 1320V1291.94h1.10V1320zM480.29 1320V1291.94h1.10V1320zM481.41 1320V1291.94h1.10V1320zM482.54 1320V1286.33h1.10V1320zM483.66 1320V1291.94h1.10V1320zM484.78 1320V1286.33h1.10V1320zM485.90 1320V1291.94h1.10V1320zM487.02 1320V1291.94h1.10V1320zM488.14 1320V1291.94h1.10V1320zM489.27 1320V1291.94h1.10V1320zM490.39 1320V1286.33h1.10V1320zM491.51 1320V1291.94h1.10V1320zM492.63 1320V1291.94h1.10V1320zM493.75 1320V1291.94h1.10V1320zM494.87 1320V1291.94h1.10V1320zM495.99 1320V1291.94h1.10V1320zM497.12 1320V1291.94h1.10V1320zM498.24 1320V1286.33h1.10V1320zM499.36 1320V1291.94h1.10V1320zM500.48 1320V1291.94h1.10V1320zM501.60 1320V1286.33h1.10V1320zM502.72 1320V1280.72h1.10V1320zM503.85 1320V1280.72h1.10V1320zM504.97 1320V1286.33h1.10V1320zM506.09 1320V1291.94h1.10V1320zM507.21 1320V1291.94h1.10V1320zM508.33 1320V1297.56h1.10V1320zM509.45 1320V1297.56h1.10V1320zM510.57 1320V1297.56h1.10V1320zM511.70 1320V1297.56h1.10V1320zM512.82 1320V1297.56h1.10V1320zM513.94 1320V1297.56h1.10V1320zM515.06 1320V1297.56h1.10V1320zM516.18 1320V1297.56h1.10V1320zM517.30 1320V1297.56h1.10V1320zM518.42 1320V1297.56h1.10V1320zM519.55 1320V1297.56h1.10V1320zM520.67 1320V1297.56h1.10V1320zM521.79 1320V1297.56h1.10V1320zM522.91 1320V1291.94h1.10V1320zM524.03 1320V1297.56h1.10V1320zM525.15 1320V1297.56h1.10V1320zM526.28 1320V1297.56h1.10V1320zM527.40 1320V1297.56h1.10V1320zM528.52 1320V1297.56h1.10V1320zM529.64 1320V1297.56h1.10V1320zM530.76 1320V1297.56h1.10V1320zM531.88 1320V1297.56h1.10V1320zM533.00 1320V1297.56h1.10V1320zM534.13 1320V1297.56h1.10V1320zM535.25 1320V1297.56h1.10V1320zM536.37 1320V1297.56h1.10V1320zM537.49 1320V1297.56h1.10V1320zM538.61 1320V1297.56h1.10V1320zM539.73 1320V1297.56h1.10V1320zM540.86 1320V1291.94h1.10V1320zM541.98 1320V1297.56h1.10V1320zM543.10 1320V1297.56h1.10V1320zM544.22 1320V1297.56h1.10V1320zM545.34 1320V1291.94h1.10V1320zM546.46 1320V1297.56h1.10V1320zM547.58 1320V1297.56h1.10V1320zM548.71 1320V1297.56h1.10V1320zM549.83 1320V1297.56h1.10V1320zM550.95 1320V1297.56h1.10V1320zM552.07 1320V1291.94h1.10V1320zM553.19 1320V1291.94h1.10V1320zM554.31 1320V1297.56h1.10V1320zM555.44 1320V1297.56h1.10V1320zM556.56 1320V1297.56h1.10V1320zM557.68 1320V1297.56h1.10V1320zM558.80 1320V1297.56h1.10V1320zM559.92 1320V1297.56h1.10V1320zM561.04 1320V1297.56h1.10V1320zM562.16 1320V1297.56h1.10V1320zM563.29 1320V1297.56h1.10V1320zM564.41 1320V1297.56h1.10V1320zM565.53 1320V1297.56h1.10V1320zM566.65 1320V1297.56h1.10V1320zM567.77 1320V1297.56h1.10V1320zM568.89 1320V1297.56h1.10V1320zM570.02 1320V1291.94h1.10V1320zM571.14 1320V1297.56h1.10V1320zM572.26 1320V1297.56h1.10V1320zM573.38 1320V1297.56h1.10V1320zM574.50 1320V1297.56h1.10V1320zM575.62 1320V1297.56h1.10V1320zM576.74 1320V1297.56h1.10V1320zM577.87 1320V1297.56h1.10V1320zM578.99 1320V1297.56h1.10V1320zM580.11 1320V1297.56h1.10V1320zM581.23 1320V1297.56h1.10V1320zM582.35 1320V1291.94h1.10V1320zM583.47 1320V1297.56h1.10V1320zM584.60 1320V1297.56h1.10V1320zM585.72 1320V1291.94h1.10V1320zM586.84 1320V1297.56h1.10V1320zM587.96 1320V1297.56h1.10V1320zM589.08 1320V1297.56h1.10V1320zM590.20 1320V1297.56h1.10V1320zM591.32 1320V1297.56h1.10V1320zM592.45 1320V1297.56h1.10V1320zM593.57 1320V1297.56h1.10V1320zM594.69 1320V1297.56h1.10V1320zM595.81 1320V1297.56h1.10V1320zM596.93 1320V1291.94h1.10V1320zM598.05 1320V1297.56h1.10V1320zM599.17 1320V1303.17h1.10V1320zM600.30 1320V1303.17h1.10V1320zM601.42 1320V1303.17h1.10V1320zM602.54 1320V1303.17h1.10V1320zM603.66 1320V1303.17h1.10V1320zM604.78 1320V1303.17h1.10V1320zM605.90 1320V1303.17h1.10V1320zM607.03 1320V1303.17h1.10V1320zM608.15 1320V1303.17h1.10V1320zM609.27 1320V1303.17h1.10V1320zM610.39 1320V1303.17h1.10V1320zM611.51 1320V1303.17h1.10V1320zM612.63 1320V1303.17h1.10V1320zM613.75 1320V1303.17h1.10V1320zM614.88 1320V1303.17h1.10V1320zM616.00 1320V1303.17h1.10V1320zM617.12 1320V1303.17h1.10V1320zM618.24 1320V1303.17h1.10V1320zM619.36 1320V1303.17h1.10V1320zM620.48 1320V1303.17h1.10V1320zM621.61 1320V1303.17h1.10V1320zM622.73 1320V1303.17h1.10V1320zM623.85 1320V1303.17h1.10V1320zM624.97 1320V1297.56h1.10V1320zM626.09 1320V1297.56h1.10V1320zM627.21 1320V1303.17h1.10V1320zM628.33 1320V1297.56h1.10V1320zM629.46 1320V1303.17h1.10V1320zM630.58 1320V1297.56h1.10V1320zM631.70 1320V1303.17h1.10V1320zM632.82 1320V1303.17h1.10V1320zM633.94 1320V1303.17h1.10V1320zM635.06 1320V1297.56h1.10V1320zM636.19 1320V1303.17h1.10V1320zM637.31 1320V1303.17h1.10V1320zM638.43 1320V1297.56h1.10V1320zM639.55 1320V1303.17h1.10V1320zM640.67 1320V1303.17h1.10V1320zM641.79 1320V1303.17h1.10V1320zM642.91 1320V1303.17h1.10V1320zM644.04 1320V1303.17h1.10V1320zM645.16 1320V1303.17h1.10V1320zM646.28 1320V1303.17h1.10V1320zM647.40 1320V1303.17h1.10V1320zM648.52 1320V1297.56h1.10V1320zM649.64 1320V1303.17h1.10V1320zM650.77 1320V1303.17h1.10V1320zM651.89 1320V1303.17h1.10V1320zM653.01 1320V1303.17h1.10V1320zM654.13 1320V1303.17h1.10V1320zM655.25 1320V1303.17h1.10V1320zM656.37 1320V1297.56h1.10V1320zM657.49 1320V1303.17h1.10V1320zM658.62 1320V1303.17h1.10V1320zM659.74 1320V1297.56h1.10V1320zM660.86 1320V1303.17h1.10V1320zM661.98 1320V1303.17h1.10V1320zM663.10 1320V1303.17h1.10V1320zM664.22 1320V1297.56h1.10V1320zM665.35 1320V1303.17h1.10V1320zM666.47 1320V1303.17h1.10V1320zM667.59 1320V1303.17h1.10V1320zM668.71 1320V1297.56h1.10V1320zM669.83 1320V1303.17h1.10V1320zM670.95 1320V1297.56h1.10V1320zM672.07 1320V1303.17h1.10V1320zM673.20 1320V1303.17h1.10V1320zM674.32 1320V1297.56h1.10V1320zM675.44 1320V1303.17h1.10V1320zM676.56 1320V1303.17h1.10V1320zM677.68 1320V1303.17h1.10V1320zM678.80 1320V1303.17h1.10V1320zM679.93 1320V1297.56h1.10V1320zM681.05 1320V1303.17h1.10V1320zM682.17 1320V1303.17h1.10V1320zM683.29 1320V1303.17h1.10V1320zM684.41 1320V1297.56h1.10V1320zM685.53 1320V1297.56h1.10V1320zM686.65 1320V1303.17h1.10V1320zM687.78 1320V1303.17h1.10V1320zM688.90 1320V1297.56h1.10V1320zM690.02 1320V1303.17h1.10V1320zM691.14 1320V1303.17h1.10V1320zM692.26 1320V1303.17h1.10V1320zM693.38 1320V1297.56h1.10V1320zM694.50 1320V1303.17h1.10V1320zM695.63 1320V1297.56h1.10V1320zM696.75 1320V1303.17h1.10V1320zM697.87 1320V1303.17h1.10V1320zM698.99 1320V1303.17h1.10V1320zM700.11 1320V1303.17h1.10V1320zM701.23 1320V1303.17h1.10V1320zM702.36 1320V1303.17h1.10V1320zM703.48 1320V1297.56h1.10V1320zM704.60 1320V1303.17h1.10V1320zM705.72 1320V1303.17h1.10V1320zM706.84 1320V1297.56h1.10V1320zM707.96 1320V1297.56h1.10V1320zM709.08 1320V1297.56h1.10V1320zM710.21 1320V1303.17h1.10V1320zM711.33 1320V1303.17h1.10V1320zM712.45 1320V1303.17h1.10V1320zM713.57 1320V1303.17h1.10V1320zM714.69 1320V1303.17h1.10V1320zM715.81 1320V1303.17h1.10V1320zM716.94 1320V1297.56h1.10V1320zM718.06 1320V1303.17h1.10V1320zM719.18 1320V1297.56h1.10V1320zM720.30 1320V1303.17h1.10V1320zM721.42 1320V1297.56h1.10V1320zM722.54 1320V1303.17h1.10V1320zM723.66 1320V1303.17h1.10V1320zM724.79 1320V1303.17h1.10V1320zM725.91 1320V1303.17h1.10V1320zM727.03 1320V1303.17h1.10V1320zM728.15 1320V1297.56h1.10V1320zM729.27 1320V1303.17h1.10V1320zM730.39 1320V1303.17h1.10V1320zM731.52 1320V1303.17h1.10V1320zM732.64 1320V1303.17h1.10V1320zM733.76 1320V1303.17h1.10V1320zM734.88 1320V1303.17h1.10V1320zM736.00 1320V1303.17h1.10V1320zM737.12 1320V1303.17h1.10V1320zM738.24 1320V1303.17h1.10V1320zM739.37 1320V1303.17h1.10V1320zM740.49 1320V1303.17h1.10V1320zM741.61 1320V1303.17h1.10V1320zM742.73 1320V1303.17h1.10V1320zM743.85 1320V1303.17h1.10V1320zM744.97 1320V1297.56h1.10V1320zM746.10 1320V1297.56h1.10V1320zM747.22 1320V1297.56h1.10V1320zM748.34 1320V1303.17h1.10V1320zM749.46 1320V1303.17h1.10V1320zM750.58 1320V1291.94h1.10V1320zM751.70 1320V1291.94h1.10V1320zM752.82 1320V1297.56h1.10V1320zM753.95 1320V1297.56h1.10V1320zM755.07 1320V1297.56h1.10V1320zM756.19 1320V1291.94h1.10V1320zM757.31 1320V1291.94h1.10V1320zM758.43 1320V1291.94h1.10V1320zM759.55 1320V1297.56h1.10V1320zM760.68 1320V1291.94h1.10V1320zM761.80 1320V1297.56h1.10V1320zM762.92 1320V1291.94h1.10V1320zM764.04 1320V1297.56h1.10V1320zM765.16 1320V1297.56h1.10V1320zM766.28 1320V1297.56h1.10V1320zM767.40 1320V1291.94h1.10V1320zM768.53 1320V1297.56h1.10V1320zM769.65 1320V1297.56h1.10V1320zM770.77 1320V1297.56h1.10V1320zM771.89 1320V1291.94h1.10V1320zM773.01 1320V1297.56h1.10V1320zM774.13 1320V1297.56h1.10V1320zM775.25 1320V1297.56h1.10V1320zM776.38 1320V1291.94h1.10V1320zM777.50 1320V1297.56h1.10V1320zM778.62 1320V1291.94h1.10V1320zM779.74 1320V1291.94h1.10V1320zM780.86 1320V1291.94h1.10V1320zM781.98 1320V1297.56h1.10V1320zM783.11 1320V1291.94h1.10V1320zM784.23 1320V1291.94h1.10V1320zM785.35 1320V1297.56h1.10V1320zM786.47 1320V1291.94h1.10V1320zM787.59 1320V1297.56h1.10V1320zM788.71 1320V1297.56h1.10V1320zM789.83 1320V1297.56h1.10V1320zM790.96 1320V1297.56h1.10V1320zM792.08 1320V1297.56h1.10V1320zM793.20 1320V1297.56h1.10V1320zM794.32 1320V1297.56h1.10V1320zM795.44 1320V1297.56h1.10V1320zM796.56 1320V1297.56h1.10V1320zM797.69 1320V1291.94h1.10V1320zM798.81 1320V1297.56h1.10V1320zM799.93 1320V1291.94h1.10V1320zM801.05 1320V1286.33h1.10V1320zM802.17 1320V1291.94h1.10V1320zM803.29 1320V1291.94h1.10V1320zM804.41 1320V1291.94h1.10V1320zM805.54 1320V1291.94h1.10V1320zM806.66 1320V1291.94h1.10V1320zM807.78 1320V1286.33h1.10V1320zM808.90 1320V1291.94h1.10V1320zM810.02 1320V1291.94h1.10V1320zM811.14 1320V1291.94h1.10V1320zM812.27 1320V1291.94h1.10V1320zM813.39 1320V1291.94h1.10V1320zM814.51 1320V1291.94h1.10V1320zM815.63 1320V1291.94h1.10V1320zM816.75 1320V1291.94h1.10V1320zM817.87 1320V1291.94h1.10V1320zM818.99 1320V1291.94h1.10V1320zM820.12 1320V1286.33h1.10V1320zM821.24 1320V1286.33h1.10V1320zM822.36 1320V1291.94h1.10V1320zM823.48 1320V1286.33h1.10V1320zM824.60 1320V1291.94h1.10V1320zM825.72 1320V1291.94h1.10V1320zM826.85 1320V1291.94h1.10V1320zM827.97 1320V1291.94h1.10V1320zM829.09 1320V1291.94h1.10V1320zM830.21 1320V1291.94h1.10V1320zM831.33 1320V1286.33h1.10V1320zM832.45 1320V1291.94h1.10V1320zM833.57 1320V1291.94h1.10V1320zM834.70 1320V1291.94h1.10V1320zM835.82 1320V1291.94h1.10V1320zM836.94 1320V1291.94h1.10V1320zM838.06 1320V1286.33h1.10V1320zM839.18 1320V1291.94h1.10V1320zM840.30 1320V1291.94h1.10V1320zM841.42 1320V1286.33h1.10V1320zM842.55 1320V1291.94h1.10V1320zM843.67 1320V1291.94h1.10V1320zM844.79 1320V1291.94h1.10V1320zM845.91 1320V1291.94h1.10V1320zM847.03 1320V1291.94h1.10V1320zM848.15 1320V1291.94h1.10V1320zM849.28 1320V1291.94h1.10V1320zM850.40 1320V1291.94h1.10V1320zM851.52 1320V1291.94h1.10V1320zM852.64 1320V1291.94h1.10V1320zM853.76 1320V1291.94h1.10V1320zM854.88 1320V1291.94h1.10V1320zM856.00 1320V1280.72h1.10V1320zM857.13 1320V1280.72h1.10V1320zM858.25 1320V1280.72h1.10V1320zM859.37 1320V1286.33h1.10V1320zM860.49 1320V1280.72h1.10V1320zM861.61 1320V1286.33h1.10V1320zM862.73 1320V1280.72h1.10V1320zM863.86 1320V1280.72h1.10V1320zM864.98 1320V1280.72h1.10V1320zM866.10 1320V1286.33h1.10V1320zM867.22 1320V1286.33h1.10V1320zM868.34 1320V1286.33h1.10V1320zM869.46 1320V1280.72h1.10V1320zM870.58 1320V1286.33h1.10V1320zM871.71 1320V1286.33h1.10V1320zM872.83 1320V1286.33h1.10V1320zM873.95 1320V1280.72h1.10V1320zM875.07 1320V1286.33h1.10V1320zM876.19 1320V1280.72h1.10V1320zM877.31 1320V1286.33h1.10V1320zM878.44 1320V1286.33h1.10V1320zM879.56 1320V1280.72h1.10V1320zM880.68 1320V1286.33h1.10V1320zM881.80 1320V1286.33h1.10V1320zM882.92 1320V1286.33h1.10V1320zM884.04 1320V1286.33h1.10V1320zM885.16 1320V1275.11h1.10V1320zM886.29 1320V1275.11h1.10V1320zM887.41 1320V1286.33h1.10V1320zM888.53 1320V1280.72h1.10V1320zM889.65 1320V1286.33h1.10V1320zM890.77 1320V1280.72h1.10V1320zM891.89 1320V1286.33h1.10V1320zM893.02 1320V1275.11h1.10V1320zM894.14 1320V1275.11h1.10V1320zM895.26 1320V1286.33h1.10V1320zM896.38 1320V1286.33h1.10V1320zM897.50 1320V1286.33h1.10V1320zM898.62 1320V1286.33h1.10V1320zM899.74 1320V1280.72h1.10V1320zM900.87 1320V1286.33h1.10V1320zM901.99 1320V1286.33h1.10V1320zM903.11 1320V1280.72h1.10V1320zM904.23 1320V1280.72h1.10V1320zM905.35 1320V1280.72h1.10V1320zM906.47 1320V1280.72h1.10V1320zM907.60 1320V1286.33h1.10V1320zM908.72 1320V1280.72h1.10V1320zM909.84 1320V1286.33h1.10V1320zM910.96 1320V1286.33h1.10V1320zM912.08 1320V1280.72h1.10V1320zM913.20 1320V1286.33h1.10V1320zM914.32 1320V1286.33h1.10V1320zM915.45 1320V1286.33h1.10V1320zM916.57 1320V1280.72h1.10V1320zM917.69 1320V1280.72h1.10V1320zM918.81 1320V1280.72h1.10V1320zM919.93 1320V1286.33h1.10V1320zM921.05 1320V1286.33h1.10V1320zM922.17 1320V1280.72h1.10V1320zM923.30 1320V1280.72h1.10V1320zM924.42 1320V1280.72h1.10V1320zM925.54 1320V1280.72h1.10V1320zM926.66 1320V1280.72h1.10V1320zM927.78 1320V1286.33h1.10V1320zM928.90 1320V1280.72h1.10V1320zM930.03 1320V1286.33h1.10V1320zM931.15 1320V1280.72h1.10V1320zM932.27 1320V1280.72h1.10V1320zM933.39 1320V1286.33h1.10V1320zM934.51 1320V1280.72h1.10V1320zM935.63 1320V1280.72h1.10V1320zM936.75 1320V1286.33h1.10V1320zM937.88 1320V1286.33h1.10V1320zM939.00 1320V1286.33h1.10V1320zM940.12 1320V1286.33h1.10V1320zM941.24 1320V1286.33h1.10V1320zM942.36 1320V1286.33h1.10V1320zM943.48 1320V1286.33h1.10V1320zM944.61 1320V1286.33h1.10V1320zM945.73 1320V1280.72h1.10V1320zM946.85 1320V1286.33h1.10V1320zM947.97 1320V1286.33h1.10V1320zM949.09 1320V1286.33h1.10V1320zM950.21 1320V1286.33h1.10V1320zM951.33 1320V1280.72h1.10V1320zM952.46 1320V1280.72h1.10V1320zM953.58 1320V1286.33h1.10V1320zM954.70 1320V1280.72h1.10V1320zM955.82 1320V1286.33h1.10V1320zM956.94 1320V1280.72h1.10V1320zM958.06 1320V1280.72h1.10V1320zM959.19 1320V1286.33h1.10V1320zM960.31 1320V1286.33h1.10V1320zM961.43 1320V1280.72h1.10V1320zM962.55 1320V1286.33h1.10V1320zM963.67 1320V1280.72h1.10V1320zM964.79 1320V1286.33h1.10V1320zM965.91 1320V1280.72h1.10V1320zM967.04 1320V1280.72h1.10V1320zM968.16 1320V1280.72h1.10V1320zM969.28 1320V1280.72h1.10V1320zM970.40 1320V1286.33h1.10V1320zM971.52 1320V1286.33h1.10V1320zM972.64 1320V1280.72h1.10V1320zM973.77 1320V1286.33h1.10V1320zM974.89 1320V1286.33h1.10V1320zM976.01 1320V1280.72h1.10V1320zM977.13 1320V1280.72h1.10V1320zM978.25 1320V1280.72h1.10V1320zM979.37 1320V1280.72h1.10V1320zM980.49 1320V1280.72h1.10V1320zM981.62 1320V1280.72h1.10V1320zM982.74 1320V1280.72h1.10V1320zM983.86 1320V1280.72h1.10V1320zM984.98 1320V1286.33h1.10V1320zM986.10 1320V1286.33h1.10V1320zM987.22 1320V1286.33h1.10V1320zM988.35 1320V1280.72h1.10V1320zM989.47 1320V1280.72h1.10V1320zM990.59 1320V1286.33h1.10V1320zM991.71 1320V1280.72h1.10V1320zM992.83 1320V1280.72h1.10V1320zM993.95 1320V1280.72h1.10V1320zM995.07 1320V1280.72h1.10V1320zM996.20 1320V1286.33h1.10V1320zM997.32 1320V1280.72h1.10V1320zM998.44 1320V1286.33h1.10V1320zM999.56 1320V1286.33h1.10V1320zM1000.68 1320V1286.33h1.10V1320zM1001.80 1320V1280.72h1.10V1320zM1002.92 1320V1280.72h1.10V1320zM1004.05 1320V1280.72h1.10V1320zM1005.17 1320V1280.72h1.10V1320zM1006.29 1320V1280.72h1.10V1320zM1007.41 1320V1286.33h1.10V1320zM1008.53 1320V1286.33h1.10V1320zM1009.65 1320V1286.33h1.10V1320zM1010.78 1320V1280.72h1.10V1320zM1011.90 1320V1280.72h1.10V1320zM1013.02 1320V1286.33h1.10V1320zM1014.14 1320V1286.33h1.10V1320zM1015.26 1320V1286.33h1.10V1320zM1016.38 1320V1286.33h1.10V1320zM1017.50 1320V1280.72h1.10V1320zM1018.63 1320V1280.72h1.10V1320zM1019.75 1320V1286.33h1.10V1320zM1020.87 1320V1286.33h1.10V1320zM1021.99 1320V1286.33h1.10V1320zM1023.11 1320V1286.33h1.10V1320zM1024.23 1320V1280.72h1.10V1320zM1025.36 1320V1280.72h1.10V1320zM1026.48 1320V1280.72h1.10V1320zM1027.60 1320V1286.33h1.10V1320zM1028.72 1320V1286.33h1.10V1320zM1029.84 1320V1286.33h1.10V1320zM1030.96 1320V1286.33h1.10V1320zM1032.08 1320V1286.33h1.10V1320zM1033.21 1320V1286.33h1.10V1320zM1034.33 1320V1286.33h1.10V1320zM1035.45 1320V1286.33h1.10V1320zM1036.57 1320V1280.72h1.10V1320zM1037.69 1320V1286.33h1.10V1320zM1038.81 1320V1280.72h1.10V1320zM1039.94 1320V1286.33h1.10V1320zM1041.06 1320V1286.33h1.10V1320zM1042.18 1320V1280.72h1.10V1320zM1043.30 1320V1280.72h1.10V1320zM1044.42 1320V1280.72h1.10V1320zM1045.54 1320V1286.33h1.10V1320zM1046.66 1320V1286.33h1.10V1320zM1047.79 1320V1280.72h1.10V1320zM1048.91 1320V1280.72h1.10V1320zM1050.03 1320V1286.33h1.10V1320zM1051.15 1320V1286.33h1.10V1320zM1052.27 1320V1280.72h1.10V1320zM1053.39 1320V1280.72h1.10V1320zM1054.52 1320V1286.33h1.10V1320zM1055.64 1320V1280.72h1.10V1320zM1056.76 1320V1280.72h1.10V1320zM1057.88 1320V1286.33h1.10V1320zM1059.00 1320V1286.33h1.10V1320zM1060.12 1320V1286.33h1.10V1320zM1061.24 1320V1286.33h1.10V1320zM1062.37 1320V1286.33h1.10V1320zM1063.49 1320V1280.72h1.10V1320zM1064.61 1320V1280.72h1.10V1320zM1065.73 1320V1286.33h1.10V1320zM1066.85 1320V1286.33h1.10V1320zM1067.97 1320V1280.72h1.10V1320zM1069.10 1320V1280.72h1.10V1320zM1070.22 1320V1286.33h1.10V1320zM1071.34 1320V1286.33h1.10V1320zM1072.46 1320V1280.72h1.10V1320zM1073.58 1320V1280.72h1.10V1320zM1074.70 1320V1275.11h1.10V1320zM1075.82 1320V1275.11h1.10V1320zM1076.95 1320V1275.11h1.10V1320zM1078.07 1320V1269.50h1.10V1320zM1079.19 1320V1275.11h1.10V1320zM1080.31 1320V1275.11h1.10V1320zM1081.43 1320V1275.11h1.10V1320zM1082.55 1320V1275.11h1.10V1320zM1083.67 1320V1275.11h1.10V1320zM1084.80 1320V1275.11h1.10V1320zM1085.92 1320V1275.11h1.10V1320zM1087.04 1320V1275.11h1.10V1320zM1088.16 1320V1269.50h1.10V1320zM1089.28 1320V1269.50h1.10V1320zM1090.40 1320V1269.50h1.10V1320zM1091.53 1320V1269.50h1.10V1320zM1092.65 1320V1269.50h1.10V1320zM1093.77 1320V1269.50h1.10V1320zM1094.89 1320V1269.50h1.10V1320zM1096.01 1320V1269.50h1.10V1320zM1097.13 1320V1269.50h1.10V1320zM1098.25 1320V1269.50h1.10V1320zM1099.38 1320V1269.50h1.10V1320zM1100.50 1320V1269.50h1.10V1320zM1101.62 1320V1269.50h1.10V1320zM1102.74 1320V1269.50h1.10V1320zM1103.86 1320V1275.11h1.10V1320zM1104.98 1320V1269.50h1.10V1320zM1106.11 1320V1269.50h1.10V1320zM1107.23 1320V1269.50h1.10V1320zM1108.35 1320V1275.11h1.10V1320zM1109.47 1320V1263.89h1.10V1320zM1110.59 1320V1275.11h1.10V1320zM1111.71 1320V1269.50h1.10V1320zM1112.83 1320V1269.50h1.10V1320zM1113.96 1320V1269.50h1.10V1320zM1115.08 1320V1269.50h1.10V1320zM1116.20 1320V1269.50h1.10V1320zM1117.32 1320V1269.50h1.10V1320zM1118.44 1320V1269.50h1.10V1320zM1119.56 1320V1269.50h1.10V1320zM1120.69 1320V1269.50h1.10V1320zM1121.81 1320V1269.50h1.10V1320zM1122.93 1320V1263.89h1.10V1320zM1124.05 1320V1269.50h1.10V1320zM1125.17 1320V1269.50h1.10V1320zM1126.29 1320V1269.50h1.10V1320zM1127.41 1320V1269.50h1.10V1320zM1128.54 1320V1275.11h1.10V1320zM1129.66 1320V1263.89h1.10V1320zM1130.78 1320V1269.50h1.10V1320zM1131.90 1320V1269.50h1.10V1320zM1133.02 1320V1269.50h1.10V1320zM1134.14 1320V1275.11h1.10V1320zM1135.27 1320V1269.50h1.10V1320zM1136.39 1320V1269.50h1.10V1320zM1137.51 1320V1269.50h1.10V1320zM1138.63 1320V1269.50h1.10V1320zM1139.75 1320V1269.50h1.10V1320zM1140.87 1320V1269.50h1.10V1320zM1141.99 1320V1263.89h1.10V1320zM1143.12 1320V1269.50h1.10V1320zM1144.24 1320V1269.50h1.10V1320zM1145.36 1320V1269.50h1.10V1320zM1146.48 1320V1269.50h1.10V1320zM1147.60 1320V1269.50h1.10V1320zM1148.72 1320V1269.50h1.10V1320zM1149.85 1320V1263.89h1.10V1320zM1150.97 1320V1269.50h1.10V1320zM1152.09 1320V1269.50h1.10V1320zM1153.21 1320V1269.50h1.10V1320zM1154.33 1320V1263.89h1.10V1320zM1155.45 1320V1263.89h1.10V1320zM1156.57 1320V1275.11h1.10V1320zM1157.70 1320V1269.50h1.10V1320zM1158.82 1320V1269.50h1.10V1320zM1159.94 1320V1269.50h1.10V1320zM1161.06 1320V1269.50h1.10V1320zM1162.18 1320V1269.50h1.10V1320zM1163.30 1320V1269.50h1.10V1320zM1164.42 1320V1269.50h1.10V1320zM1165.55 1320V1269.50h1.10V1320zM1166.67 1320V1269.50h1.10V1320zM1167.79 1320V1269.50h1.10V1320zM1168.91 1320V1269.50h1.10V1320zM1170.03 1320V1269.50h1.10V1320zM1171.15 1320V1263.89h1.10V1320zM1172.28 1320V1269.50h1.10V1320zM1173.40 1320V1269.50h1.10V1320zM1174.52 1320V1269.50h1.10V1320zM1175.64 1320V1269.50h1.10V1320zM1176.76 1320V1263.89h1.10V1320zM1177.88 1320V1269.50h1.10V1320zM1179.00 1320V1269.50h1.10V1320zM1180.13 1320V1269.50h1.10V1320zM1181.25 1320V1269.50h1.10V1320zM1182.37 1320V1269.50h1.10V1320zM1183.49 1320V1269.50h1.10V1320zM1184.61 1320V1269.50h1.10V1320zM1185.73 1320V1269.50h1.10V1320zM1186.86 1320V1269.50h1.10V1320zM1187.98 1320V1269.50h1.10V1320zM1189.10 1320V1269.50h1.10V1320zM1190.22 1320V1269.50h1.10V1320zM1191.34 1320V1269.50h1.10V1320zM1192.46 1320V1269.50h1.10V1320zM1193.58 1320V1269.50h1.10V1320zM1194.71 1320V1269.50h1.10V1320zM1195.83 1320V1269.50h1.10V1320zM1196.95 1320V1269.50h1.10V1320zM1198.07 1320V1269.50h1.10V1320zM1199.19 1320V1275.11h1.10V1320zM1200.31 1320V1269.50h1.10V1320zM1201.44 1320V1269.50h1.10V1320zM1202.56 1320V1269.50h1.10V1320zM1203.68 1320V1275.11h1.10V1320zM1352.84 1320V1291.94h1.10V1320zM1353.96 1320V1291.94h1.10V1320zM1355.08 1320V1291.94h1.10V1320zM1356.21 1320V1291.94h1.10V1320zM1357.33 1320V1291.94h1.10V1320zM1358.45 1320V1291.94h1.10V1320zM1359.57 1320V1291.94h1.10V1320zM1360.69 1320V1291.94h1.10V1320zM1361.81 1320V1280.72h1.10V1320zM1362.94 1320V1291.94h1.10V1320zM1364.06 1320V1291.94h1.10V1320zM1365.18 1320V1291.94h1.10V1320zM1366.30 1320V1291.94h1.10V1320zM1367.42 1320V1297.56h1.10V1320zM1368.54 1320V1297.56h1.10V1320zM1369.66 1320V1297.56h1.10V1320zM1370.79 1320V1297.56h1.10V1320zM1371.91 1320V1297.56h1.10V1320zM1373.03 1320V1291.94h1.10V1320zM1374.15 1320V1291.94h1.10V1320zM1375.27 1320V1291.94h1.10V1320zM1376.39 1320V1291.94h1.10V1320zM1377.52 1320V1286.33h1.10V1320zM1378.64 1320V1286.33h1.10V1320zM1379.76 1320V1286.33h1.10V1320zM1380.88 1320V1291.94h1.10V1320zM1382.00 1320V1291.94h1.10V1320zM1383.12 1320V1286.33h1.10V1320zM1384.24 1320V1291.94h1.10V1320zM1385.37 1320V1291.94h1.10V1320zM1386.49 1320V1291.94h1.10V1320zM1387.61 1320V1291.94h1.10V1320zM1388.73 1320V1286.33h1.10V1320zM1389.85 1320V1286.33h1.10V1320zM1390.97 1320V1286.33h1.10V1320zM1392.10 1320V1286.33h1.10V1320zM1393.22 1320V1291.94h1.10V1320zM1394.34 1320V1291.94h1.10V1320zM1395.46 1320V1291.94h1.10V1320zM1396.58 1320V1291.94h1.10V1320zM1397.70 1320V1291.94h1.10V1320zM1398.82 1320V1286.33h1.10V1320zM1399.95 1320V1286.33h1.10V1320zM1401.07 1320V1286.33h1.10V1320zM1402.19 1320V1286.33h1.10V1320zM1403.31 1320V1280.72h1.10V1320zM1404.43 1320V1286.33h1.10V1320zM1405.55 1320V1286.33h1.10V1320zM1406.67 1320V1280.72h1.10V1320zM1407.80 1320V1286.33h1.10V1320zM1408.92 1320V1280.72h1.10V1320zM1410.04 1320V1280.72h1.10V1320zM1411.16 1320V1286.33h1.10V1320zM1412.28 1320V1286.33h1.10V1320zM1413.40 1320V1286.33h1.10V1320zM1414.53 1320V1280.72h1.10V1320zM1415.65 1320V1280.72h1.10V1320zM1416.77 1320V1286.33h1.10V1320zM1417.89 1320V1275.11h1.10V1320zM1419.01 1320V1275.11h1.10V1320zM1420.13 1320V1280.72h1.10V1320zM1421.25 1320V1280.72h1.10V1320zM1422.38 1320V1280.72h1.10V1320zM1423.50 1320V1280.72h1.10V1320zM1424.62 1320V1280.72h1.10V1320zM1425.74 1320V1280.72h1.10V1320zM1426.86 1320V1280.72h1.10V1320zM1427.98 1320V1280.72h1.10V1320zM1429.11 1320V1280.72h1.10V1320zM1430.23 1320V1280.72h1.10V1320zM1431.35 1320V1280.72h1.10V1320zM1432.47 1320V1280.72h1.10V1320zM1433.59 1320V1280.72h1.10V1320zM1434.71 1320V1280.72h1.10V1320zM1435.83 1320V1280.72h1.10V1320zM1436.96 1320V1275.11h1.10V1320zM1438.08 1320V1280.72h1.10V1320zM1439.20 1320V1275.11h1.10V1320zM1440.32 1320V1280.72h1.10V1320zM1441.44 1320V1275.11h1.10V1320zM1442.56 1320V1275.11h1.10V1320zM1443.69 1320V1275.11h1.10V1320zM1444.81 1320V1280.72h1.10V1320zM1445.93 1320V1280.72h1.10V1320zM1447.05 1320V1275.11h1.10V1320zM1448.17 1320V1269.50h1.10V1320zM1449.29 1320V1263.89h1.10V1320zM1450.41 1320V1269.50h1.10V1320zM1451.54 1320V1269.50h1.10V1320zM1452.66 1320V1269.50h1.10V1320zM1453.78 1320V1269.50h1.10V1320zM1454.90 1320V1269.50h1.10V1320zM1456.02 1320V1269.50h1.10V1320zM1457.14 1320V1269.50h1.10V1320zM1458.27 1320V1263.89h1.10V1320zM1459.39 1320V1269.50h1.10V1320zM1460.51 1320V1269.50h1.10V1320zM1461.63 1320V1269.50h1.10V1320zM1462.75 1320V1269.50h1.10V1320zM1463.87 1320V1269.50h1.10V1320zM1464.99 1320V1269.50h1.10V1320zM1466.12 1320V1269.50h1.10V1320zM1467.24 1320V1269.50h1.10V1320zM1468.36 1320V1269.50h1.10V1320zM1469.48 1320V1269.50h1.10V1320zM1470.60 1320V1269.50h1.10V1320zM1471.72 1320V1269.50h1.10V1320zM1472.85 1320V1269.50h1.10V1320zM1473.97 1320V1269.50h1.10V1320zM1475.09 1320V1269.50h1.10V1320zM1476.21 1320V1263.89h1.10V1320zM1477.33 1320V1263.89h1.10V1320zM1478.45 1320V1269.50h1.10V1320zM1479.57 1320V1269.50h1.10V1320zM1480.70 1320V1269.50h1.10V1320zM1481.82 1320V1263.89h1.10V1320zM1482.94 1320V1269.50h1.10V1320zM1484.06 1320V1263.89h1.10V1320zM1485.18 1320V1269.50h1.10V1320zM1486.30 1320V1269.50h1.10V1320zM1487.42 1320V1269.50h1.10V1320zM1488.55 1320V1263.89h1.10V1320zM1489.67 1320V1269.50h1.10V1320zM1490.79 1320V1263.89h1.10V1320zM1491.91 1320V1269.50h1.10V1320zM1493.03 1320V1269.50h1.10V1320zM1494.15 1320V1269.50h1.10V1320zM1495.28 1320V1263.89h1.10V1320zM1496.40 1320V1263.89h1.10V1320zM1497.52 1320V1263.89h1.10V1320zM1498.64 1320V1269.50h1.10V1320zM1499.76 1320V1263.89h1.10V1320zM1500.88 1320V1263.89h1.10V1320zM1502.00 1320V1263.89h1.10V1320zM1503.13 1320V1269.50h1.10V1320zM1504.25 1320V1269.50h1.10V1320zM1505.37 1320V1263.89h1.10V1320zM1506.49 1320V1269.50h1.10V1320zM1507.61 1320V1269.50h1.10V1320zM1508.73 1320V1263.89h1.10V1320zM1509.86 1320V1269.50h1.10V1320zM1510.98 1320V1263.89h1.10V1320zM1512.10 1320V1269.50h1.10V1320zM1513.22 1320V1269.50h1.10V1320zM1514.34 1320V1269.50h1.10V1320zM1515.46 1320V1263.89h1.10V1320zM1516.58 1320V1269.50h1.10V1320zM1517.71 1320V1269.50h1.10V1320zM1518.83 1320V1269.50h1.10V1320zM1519.95 1320V1269.50h1.10V1320zM1521.07 1320V1269.50h1.10V1320zM1522.19 1320V1269.50h1.10V1320zM1523.31 1320V1263.89h1.10V1320zM1524.44 1320V1269.50h1.10V1320zM1525.56 1320V1269.50h1.10V1320zM1526.68 1320V1263.89h1.10V1320zM1675.84 1320V1286.33h1.10V1320zM1676.96 1320V1286.33h1.10V1320zM1678.08 1320V1286.33h1.10V1320zM1679.21 1320V1286.33h1.10V1320zM1680.33 1320V1297.56h1.10V1320zM1681.45 1320V1297.56h1.10V1320zM1682.57 1320V1297.56h1.10V1320zM1683.69 1320V1297.56h1.10V1320zM1684.81 1320V1297.56h1.10V1320zM1685.94 1320V1297.56h1.10V1320zM1687.06 1320V1303.17h1.10V1320zM1688.18 1320V1303.17h1.10V1320zM1689.30 1320V1303.17h1.10V1320zM1690.42 1320V1303.17h1.10V1320zM1691.54 1320V1303.17h1.10V1320zM1692.66 1320V1303.17h1.10V1320zM1693.79 1320V1303.17h1.10V1320zM1694.91 1320V1303.17h1.10V1320zM1696.03 1320V1303.17h1.10V1320zM1697.15 1320V1303.17h1.10V1320zM1698.27 1320V1303.17h1.10V1320zM1699.39 1320V1303.17h1.10V1320zM1700.52 1320V1297.56h1.10V1320zM1701.64 1320V1297.56h1.10V1320zM1702.76 1320V1303.17h1.10V1320zM1703.88 1320V1303.17h1.10V1320zM1705.00 1320V1303.17h1.10V1320zM1706.12 1320V1303.17h1.10V1320zM1707.24 1320V1303.17h1.10V1320zM1708.37 1320V1303.17h1.10V1320zM1709.49 1320V1303.17h1.10V1320zM1710.61 1320V1303.17h1.10V1320zM1711.73 1320V1303.17h1.10V1320zM1712.85 1320V1303.17h1.10V1320zM1713.97 1320V1303.17h1.10V1320zM1715.10 1320V1303.17h1.10V1320zM1716.22 1320V1297.56h1.10V1320zM1717.34 1320V1303.17h1.10V1320zM1718.46 1320V1291.94h1.10V1320zM1719.58 1320V1297.56h1.10V1320zM1720.70 1320V1297.56h1.10V1320zM1721.82 1320V1297.56h1.10V1320zM1722.95 1320V1291.94h1.10V1320zM1724.07 1320V1297.56h1.10V1320zM1725.19 1320V1291.94h1.10V1320zM1726.31 1320V1297.56h1.10V1320zM1727.43 1320V1297.56h1.10V1320zM1728.55 1320V1297.56h1.10V1320zM1729.67 1320V1297.56h1.10V1320zM1730.80 1320V1297.56h1.10V1320zM1731.92 1320V1297.56h1.10V1320zM1733.04 1320V1297.56h1.10V1320zM1734.16 1320V1291.94h1.10V1320zM1735.28 1320V1297.56h1.10V1320zM1736.40 1320V1297.56h1.10V1320zM1737.53 1320V1297.56h1.10V1320zM1738.65 1320V1297.56h1.10V1320zM1739.77 1320V1291.94h1.10V1320zM1740.89 1320V1297.56h1.10V1320zM1742.01 1320V1297.56h1.10V1320zM1743.13 1320V1297.56h1.10V1320zM1744.25 1320V1291.94h1.10V1320zM1745.38 1320V1291.94h1.10V1320zM1746.50 1320V1291.94h1.10V1320zM1747.62 1320V1291.94h1.10V1320zM1748.74 1320V1286.33h1.10V1320zM1749.86 1320V1291.94h1.10V1320zM1750.98 1320V1291.94h1.10V1320zM1752.11 1320V1291.94h1.10V1320zM1753.23 1320V1291.94h1.10V1320zM1754.35 1320V1291.94h1.10V1320zM1755.47 1320V1280.72h1.10V1320zM1756.59 1320V1280.72h1.10V1320zM1757.71 1320V1280.72h1.10V1320zM1758.83 1320V1280.72h1.10V1320zM1759.96 1320V1286.33h1.10V1320zM1761.08 1320V1286.33h1.10V1320zM1762.20 1320V1286.33h1.10V1320zM1763.32 1320V1286.33h1.10V1320zM1764.44 1320V1286.33h1.10V1320zM1765.56 1320V1286.33h1.10V1320zM1766.69 1320V1286.33h1.10V1320zM1767.81 1320V1286.33h1.10V1320zM1768.93 1320V1280.72h1.10V1320zM1770.05 1320V1280.72h1.10V1320zM1771.17 1320V1280.72h1.10V1320zM1772.29 1320V1280.72h1.10V1320zM1773.41 1320V1280.72h1.10V1320zM1774.54 1320V1280.72h1.10V1320zM1775.66 1320V1286.33h1.10V1320zM1776.78 1320V1286.33h1.10V1320zM1777.90 1320V1280.72h1.10V1320zM1779.02 1320V1286.33h1.10V1320zM1780.14 1320V1280.72h1.10V1320zM1781.27 1320V1280.72h1.10V1320zM1782.39 1320V1286.33h1.10V1320zM1783.51 1320V1280.72h1.10V1320zM1784.63 1320V1280.72h1.10V1320zM1785.75 1320V1280.72h1.10V1320zM1786.87 1320V1286.33h1.10V1320zM1787.99 1320V1286.33h1.10V1320zM1789.12 1320V1286.33h1.10V1320zM1790.24 1320V1280.72h1.10V1320zM1791.36 1320V1275.11h1.10V1320zM1792.48 1320V1275.11h1.10V1320zM1793.60 1320V1280.72h1.10V1320zM1794.72 1320V1280.72h1.10V1320zM1795.85 1320V1275.11h1.10V1320zM1796.97 1320V1280.72h1.10V1320zM1798.09 1320V1275.11h1.10V1320zM1799.21 1320V1280.72h1.10V1320zM1800.33 1320V1280.72h1.10V1320zM1801.45 1320V1275.11h1.10V1320zM1802.57 1320V1280.72h1.10V1320zM1803.70 1320V1275.11h1.10V1320zM1804.82 1320V1280.72h1.10V1320zM1805.94 1320V1275.11h1.10V1320zM1807.06 1320V1275.11h1.10V1320zM1808.18 1320V1275.11h1.10V1320zM1809.30 1320V1280.72h1.10V1320zM1810.42 1320V1269.50h1.10V1320zM1811.55 1320V1275.11h1.10V1320zM1812.67 1320V1275.11h1.10V1320zM1813.79 1320V1269.50h1.10V1320zM1814.91 1320V1269.50h1.10V1320zM1816.03 1320V1275.11h1.10V1320zM1817.15 1320V1275.11h1.10V1320zM1818.28 1320V1275.11h1.10V1320zM1819.40 1320V1275.11h1.10V1320zM1820.52 1320V1269.50h1.10V1320zM1821.64 1320V1269.50h1.10V1320zM1822.76 1320V1269.50h1.10V1320zM1823.88 1320V1269.50h1.10V1320zM1825.00 1320V1275.11h1.10V1320zM1826.13 1320V1275.11h1.10V1320zM1827.25 1320V1275.11h1.10V1320zM1828.37 1320V1269.50h1.10V1320zM1829.49 1320V1275.11h1.10V1320zM1830.61 1320V1275.11h1.10V1320zM1831.73 1320V1275.11h1.10V1320zM1832.86 1320V1275.11h1.10V1320zM1833.98 1320V1269.50h1.10V1320zM1835.10 1320V1263.89h1.10V1320zM1836.22 1320V1263.89h1.10V1320zM1837.34 1320V1263.89h1.10V1320zM1838.46 1320V1263.89h1.10V1320zM1839.58 1320V1263.89h1.10V1320zM1840.71 1320V1269.50h1.10V1320zM1841.83 1320V1269.50h1.10V1320zM1842.95 1320V1269.50h1.10V1320zM1844.07 1320V1269.50h1.10V1320zM1845.19 1320V1263.89h1.10V1320zM1846.31 1320V1269.50h1.10V1320zM1847.44 1320V1269.50h1.10V1320zM1848.56 1320V1269.50h1.10V1320zM1849.68 1320V1269.50h1.10V1320zM1998.84 1320V1303.17h1.10V1320zM1999.96 1320V1303.17h1.10V1320zM2001.08 1320V1303.17h1.10V1320zM2002.21 1320V1303.17h1.10V1320zM2003.33 1320V1269.50h1.10V1320zM2004.45 1320V1252.67h1.10V1320zM2005.57 1320V1252.67h1.10V1320zM2006.69 1320V1258.28h1.10V1320zM2007.81 1320V1263.89h1.10V1320zM2008.94 1320V1269.50h1.10V1320zM2010.06 1320V1275.11h1.10V1320zM2011.18 1320V1286.33h1.10V1320zM2012.30 1320V1297.56h1.10V1320zM2013.42 1320V1303.17h1.10V1320zM2014.54 1320V1303.17h1.10V1320zM2015.66 1320V1303.17h1.10V1320zM2016.79 1320V1308.78h1.10V1320zM2017.91 1320V1308.78h1.10V1320zM2019.03 1320V1308.78h1.10V1320zM2020.15 1320V1308.78h1.10V1320zM2021.27 1320V1308.78h1.10V1320zM2022.39 1320V1308.78h1.10V1320zM2023.52 1320V1308.78h1.10V1320zM2024.64 1320V1308.78h1.10V1320zM2025.76 1320V1308.78h1.10V1320zM2026.88 1320V1308.78h1.10V1320zM2028.00 1320V1308.78h1.10V1320zM2029.12 1320V1308.78h1.10V1320zM2030.24 1320V1308.78h1.10V1320zM2031.37 1320V1308.78h1.10V1320zM2032.49 1320V1308.78h1.10V1320zM2033.61 1320V1308.78h1.10V1320zM2034.73 1320V1308.78h1.10V1320zM2035.85 1320V1308.78h1.10V1320zM2036.97 1320V1308.78h1.10V1320zM2038.10 1320V1308.78h1.10V1320zM2039.22 1320V1308.78h1.10V1320zM2040.34 1320V1303.17h1.10V1320zM2041.46 1320V1308.78h1.10V1320zM2042.58 1320V1308.78h1.10V1320zM2043.70 1320V1308.78h1.10V1320zM2044.82 1320V1297.56h1.10V1320zM2045.95 1320V1297.56h1.10V1320zM2047.07 1320V1297.56h1.10V1320zM2048.19 1320V1303.17h1.10V1320zM2049.31 1320V1303.17h1.10V1320zM2050.43 1320V1303.17h1.10V1320zM2051.55 1320V1303.17h1.10V1320zM2052.67 1320V1297.56h1.10V1320zM2053.80 1320V1303.17h1.10V1320zM2054.92 1320V1303.17h1.10V1320zM2056.04 1320V1303.17h1.10V1320zM2057.16 1320V1303.17h1.10V1320zM2058.28 1320V1303.17h1.10V1320zM2059.40 1320V1297.56h1.10V1320zM2060.53 1320V1303.17h1.10V1320zM2061.65 1320V1303.17h1.10V1320zM2062.77 1320V1303.17h1.10V1320zM2063.89 1320V1303.17h1.10V1320zM2065.01 1320V1303.17h1.10V1320zM2066.13 1320V1303.17h1.10V1320zM2067.25 1320V1297.56h1.10V1320zM2068.38 1320V1303.17h1.10V1320zM2069.50 1320V1303.17h1.10V1320zM2070.62 1320V1303.17h1.10V1320zM2071.74 1320V1303.17h1.10V1320zM2072.86 1320V1303.17h1.10V1320zM2073.98 1320V1297.56h1.10V1320zM2075.11 1320V1297.56h1.10V1320zM2076.23 1320V1297.56h1.10V1320zM2077.35 1320V1303.17h1.10V1320zM2078.47 1320V1297.56h1.10V1320zM2079.59 1320V1297.56h1.10V1320zM2080.71 1320V1303.17h1.10V1320zM2081.83 1320V1297.56h1.10V1320zM2082.96 1320V1297.56h1.10V1320zM2084.08 1320V1297.56h1.10V1320zM2085.20 1320V1303.17h1.10V1320zM2086.32 1320V1303.17h1.10V1320zM2087.44 1320V1297.56h1.10V1320zM2088.56 1320V1303.17h1.10V1320zM2089.69 1320V1303.17h1.10V1320zM2090.81 1320V1303.17h1.10V1320zM2091.93 1320V1303.17h1.10V1320zM2093.05 1320V1303.17h1.10V1320zM2094.17 1320V1297.56h1.10V1320zM2095.29 1320V1297.56h1.10V1320zM2096.41 1320V1303.17h1.10V1320zM2097.54 1320V1297.56h1.10V1320zM2098.66 1320V1303.17h1.10V1320zM2099.78 1320V1297.56h1.10V1320zM2100.90 1320V1297.56h1.10V1320zM2102.02 1320V1297.56h1.10V1320zM2103.14 1320V1297.56h1.10V1320zM2104.27 1320V1303.17h1.10V1320zM2105.39 1320V1297.56h1.10V1320zM2106.51 1320V1291.94h1.10V1320zM2107.63 1320V1303.17h1.10V1320zM2108.75 1320V1297.56h1.10V1320zM2109.87 1320V1303.17h1.10V1320zM2110.99 1320V1297.56h1.10V1320zM2112.12 1320V1297.56h1.10V1320zM2113.24 1320V1303.17h1.10V1320zM2114.36 1320V1297.56h1.10V1320zM2115.48 1320V1297.56h1.10V1320zM2116.60 1320V1297.56h1.10V1320zM2117.72 1320V1303.17h1.10V1320zM2118.85 1320V1297.56h1.10V1320zM2119.97 1320V1303.17h1.10V1320zM2121.09 1320V1297.56h1.10V1320zM2122.21 1320V1297.56h1.10V1320zM2123.33 1320V1297.56h1.10V1320zM2124.45 1320V1297.56h1.10V1320zM2125.57 1320V1297.56h1.10V1320zM2126.70 1320V1303.17h1.10V1320zM2127.82 1320V1297.56h1.10V1320zM2128.94 1320V1297.56h1.10V1320zM2130.06 1320V1303.17h1.10V1320zM2131.18 1320V1291.94h1.10V1320zM2132.30 1320V1297.56h1.10V1320zM2133.42 1320V1297.56h1.10V1320zM2134.55 1320V1297.56h1.10V1320zM2135.67 1320V1297.56h1.10V1320zM2136.79 1320V1297.56h1.10V1320zM2137.91 1320V1297.56h1.10V1320zM2139.03 1320V1303.17h1.10V1320zM2140.15 1320V1297.56h1.10V1320zM2141.28 1320V1291.94h1.10V1320zM2142.40 1320V1303.17h1.10V1320zM2143.52 1320V1291.94h1.10V1320zM2144.64 1320V1291.94h1.10V1320zM2145.76 1320V1297.56h1.10V1320zM2146.88 1320V1297.56h1.10V1320zM2148.00 1320V1297.56h1.10V1320zM2149.13 1320V1297.56h1.10V1320zM2150.25 1320V1291.94h1.10V1320zM2151.37 1320V1297.56h1.10V1320zM2152.49 1320V1291.94h1.10V1320zM2153.61 1320V1297.56h1.10V1320zM2154.73 1320V1297.56h1.10V1320zM2155.86 1320V1297.56h1.10V1320zM2156.98 1320V1291.94h1.10V1320zM2158.10 1320V1297.56h1.10V1320zM2159.22 1320V1291.94h1.10V1320zM2160.34 1320V1291.94h1.10V1320zM2161.46 1320V1291.94h1.10V1320zM2162.58 1320V1291.94h1.10V1320zM2163.71 1320V1297.56h1.10V1320zM2164.83 1320V1291.94h1.10V1320zM2165.95 1320V1291.94h1.10V1320zM2167.07 1320V1291.94h1.10V1320zM2168.19 1320V1297.56h1.10V1320zM2169.31 1320V1297.56h1.10V1320zM2170.44 1320V1286.33h1.10V1320zM2171.56 1320V1286.33h1.10V1320zM2172.68 1320V1291.94h1.10V1320z" fill="#a0ecc2"/>
<path d="M235.80 1320V1303.17h1.10V1320zM236.92 1320V1297.56h1.10V1320zM238.04 1320V1297.56h1.10V1320zM239.16 1320V1291.94h1.10V1320zM240.29 1320V1297.56h1.10V1320zM241.41 1320V1297.56h1.10V1320zM242.53 1320V1291.94h1.10V1320zM243.65 1320V1297.56h1.10V1320zM244.77 1320V1291.94h1.10V1320zM245.89 1320V1291.94h1.10V1320zM247.02 1320V1291.94h1.10V1320zM248.14 1320V1151.67h1.10V1320zM249.26 1320V1151.67h1.10V1320zM250.38 1320V1134.83h1.10V1320zM251.50 1320V1050.67h1.10V1320zM252.62 1320V904.78h1.10V1320zM253.74 1320V1005.78h1.10V1320zM254.87 1320V1005.78h1.10V1320zM255.99 1320V1028.22h1.10V1320zM257.11 1320V1028.22h1.10V1320zM258.23 1320V899.17h1.10V1320zM259.35 1320V960.89h1.10V1320zM260.47 1320V960.89h1.10V1320zM261.60 1320V1101.17h1.10V1320zM262.72 1320V1101.17h1.10V1320zM263.84 1320V988.94h1.10V1320zM264.96 1320V1000.17h1.10V1320zM266.08 1320V1000.17h1.10V1320zM267.20 1320V876.72h1.10V1320zM268.32 1320V910.39h1.10V1320zM269.45 1320V910.39h1.10V1320zM270.57 1320V1078.72h1.10V1320zM271.69 1320V938.44h1.10V1320zM272.81 1320V1078.72h1.10V1320zM273.93 1320V988.94h1.10V1320zM275.05 1320V988.94h1.10V1320zM276.17 1320V988.94h1.10V1320zM277.30 1320V893.56h1.10V1320zM278.42 1320V955.28h1.10V1320zM279.54 1320V955.28h1.10V1320zM280.66 1320V1134.83h1.10V1320zM281.78 1320V1151.67h1.10V1320zM282.90 1320V1005.78h1.10V1320zM284.03 1320V1005.78h1.10V1320zM285.15 1320V865.50h1.10V1320zM286.27 1320V1017.00h1.10V1320zM287.39 1320V1017.00h1.10V1320zM288.51 1320V983.33h1.10V1320zM289.63 1320V910.39h1.10V1320zM290.75 1320V1056.28h1.10V1320zM291.88 1320V1056.28h1.10V1320zM293.00 1320V1118.00h1.10V1320zM294.12 1320V1174.11h1.10V1320zM295.24 1320V1174.11h1.10V1320zM296.36 1320V1078.72h1.10V1320zM297.48 1320V916.00h1.10V1320zM298.61 1320V949.67h1.10V1320zM299.73 1320V949.67h1.10V1320zM300.85 1320V1101.17h1.10V1320zM301.97 1320V1045.06h1.10V1320zM303.09 1320V938.44h1.10V1320zM304.21 1320V1017.00h1.10V1320zM305.33 1320V1022.61h1.10V1320zM306.46 1320V887.94h1.10V1320zM307.58 1320V1174.11h1.10V1320zM308.70 1320V1084.33h1.10V1320zM309.82 1320V1174.11h1.10V1320zM310.94 1320V1174.11h1.10V1320zM312.06 1320V1106.78h1.10V1320zM313.19 1320V1134.83h1.10V1320zM314.31 1320V1134.83h1.10V1320zM315.43 1320V1157.28h1.10V1320zM316.55 1320V1162.89h1.10V1320zM317.67 1320V1162.89h1.10V1320zM318.79 1320V1174.11h1.10V1320zM319.91 1320V1174.11h1.10V1320zM321.04 1320V1174.11h1.10V1320zM322.16 1320V1174.11h1.10V1320zM323.28 1320V1028.22h1.10V1320zM324.40 1320V904.78h1.10V1320zM325.52 1320V1039.44h1.10V1320zM326.64 1320V910.39h1.10V1320zM327.77 1320V910.39h1.10V1320zM328.89 1320V1045.06h1.10V1320zM330.01 1320V1106.78h1.10V1320zM331.13 1320V955.28h1.10V1320zM332.25 1320V955.28h1.10V1320zM333.37 1320V932.83h1.10V1320zM334.49 1320V1101.17h1.10V1320zM335.62 1320V1101.17h1.10V1320zM336.74 1320V1095.56h1.10V1320zM337.86 1320V1089.94h1.10V1320zM338.98 1320V1089.94h1.10V1320zM340.10 1320V932.83h1.10V1320zM341.22 1320V1095.56h1.10V1320zM342.35 1320V1022.61h1.10V1320zM343.47 1320V955.28h1.10V1320zM344.59 1320V955.28h1.10V1320zM345.71 1320V949.67h1.10V1320zM346.83 1320V949.67h1.10V1320zM347.95 1320V910.39h1.10V1320zM349.07 1320V1129.22h1.10V1320zM350.20 1320V1129.22h1.10V1320zM351.32 1320V882.33h1.10V1320zM352.44 1320V988.94h1.10V1320zM353.56 1320V988.94h1.10V1320zM354.68 1320V921.61h1.10V1320zM355.80 1320V960.89h1.10V1320zM356.92 1320V1112.39h1.10V1320zM358.05 1320V1112.39h1.10V1320zM359.17 1320V1151.67h1.10V1320zM360.29 1320V1190.94h1.10V1320zM361.41 1320V1157.28h1.10V1320zM362.53 1320V1157.28h1.10V1320zM363.65 1320V882.33h1.10V1320zM364.78 1320V1011.39h1.10V1320zM365.90 1320V1011.39h1.10V1320zM367.02 1320V1146.06h1.10V1320zM368.14 1320V1168.50h1.10V1320zM369.26 1320V1168.50h1.10V1320zM370.38 1320V1196.56h1.10V1320zM371.50 1320V1190.94h1.10V1320zM372.63 1320V1190.94h1.10V1320zM373.75 1320V1190.94h1.10V1320zM374.87 1320V1190.94h1.10V1320zM375.99 1320V1134.83h1.10V1320zM377.11 1320V1174.11h1.10V1320zM378.23 1320V1190.94h1.10V1320zM379.36 1320V1190.94h1.10V1320zM380.48 1320V1045.06h1.10V1320zM381.60 1320V916.00h1.10V1320zM382.72 1320V1073.11h1.10V1320zM1204.80 1320V1263.89h1.10V1320zM1205.92 1320V1269.50h1.10V1320zM1207.04 1320V1269.50h1.10V1320zM1208.16 1320V1269.50h1.10V1320zM1209.29 1320V1269.50h1.10V1320zM1210.41 1320V1269.50h1.10V1320zM1211.53 1320V1269.50h1.10V1320zM1212.65 1320V1275.11h1.10V1320zM1213.77 1320V1275.11h1.10V1320zM1214.89 1320V1269.50h1.10V1320zM1216.02 1320V1269.50h1.10V1320zM1217.14 1320V1269.50h1.10V1320zM1218.26 1320V1118.00h1.10V1320zM1219.38 1320V1089.94h1.10V1320zM1220.50 1320V1112.39h1.10V1320zM1221.62 1320V1084.33h1.10V1320zM1222.74 1320V1084.33h1.10V1320zM1223.87 1320V1084.33h1.10V1320zM1224.99 1320V1084.33h1.10V1320zM1226.11 1320V1084.33h1.10V1320zM1227.23 1320V1089.94h1.10V1320zM1228.35 1320V1129.22h1.10V1320zM1229.47 1320V1129.22h1.10V1320zM1230.60 1320V955.28h1.10V1320zM1231.72 1320V910.39h1.10V1320zM1232.84 1320V1022.61h1.10V1320zM1233.96 1320V1028.22h1.10V1320zM1235.08 1320V1028.22h1.10V1320zM1236.20 1320V944.06h1.10V1320zM1237.32 1320V893.56h1.10V1320zM1238.45 1320V1011.39h1.10V1320zM1239.57 1320V1157.28h1.10V1320zM1240.69 1320V1157.28h1.10V1320zM1241.81 1320V1067.50h1.10V1320zM1242.93 1320V1045.06h1.10V1320zM1244.05 1320V910.39h1.10V1320zM1245.17 1320V916.00h1.10V1320zM1246.30 1320V1067.50h1.10V1320zM1247.42 1320V1067.50h1.10V1320zM1248.54 1320V1123.61h1.10V1320zM1249.66 1320V1140.44h1.10V1320zM1250.78 1320V1157.28h1.10V1320zM1251.90 1320V1157.28h1.10V1320zM1253.03 1320V1162.89h1.10V1320zM1254.15 1320V1168.50h1.10V1320zM1255.27 1320V1146.06h1.10V1320zM1256.39 1320V1140.44h1.10V1320zM1257.51 1320V1140.44h1.10V1320zM1258.63 1320V1112.39h1.10V1320zM1259.75 1320V1106.78h1.10V1320zM1260.88 1320V1067.50h1.10V1320zM1262.00 1320V1067.50h1.10V1320zM1263.12 1320V1067.50h1.10V1320zM1264.24 1320V955.28h1.10V1320zM1265.36 1320V1033.83h1.10V1320zM1266.48 1320V1067.50h1.10V1320zM1267.61 1320V1067.50h1.10V1320zM1268.73 1320V1157.28h1.10V1320zM1269.85 1320V1168.50h1.10V1320zM1270.97 1320V1151.67h1.10V1320zM1272.09 1320V1151.67h1.10V1320zM1273.21 1320V1168.50h1.10V1320zM1274.33 1320V1151.67h1.10V1320zM1275.46 1320V1134.83h1.10V1320zM1276.58 1320V1134.83h1.10V1320zM1277.70 1320V1089.94h1.10V1320zM1278.82 1320V1106.78h1.10V1320zM1279.94 1320V1151.67h1.10V1320zM1281.06 1320V1151.67h1.10V1320zM1282.19 1320V1174.11h1.10V1320zM1283.31 1320V1140.44h1.10V1320zM1284.43 1320V1140.44h1.10V1320zM1285.55 1320V1146.06h1.10V1320zM1286.67 1320V1151.67h1.10V1320zM1287.79 1320V1151.67h1.10V1320zM1288.91 1320V1168.50h1.10V1320zM1290.04 1320V1168.50h1.10V1320zM1291.16 1320V1168.50h1.10V1320zM1292.28 1320V1179.72h1.10V1320zM1293.40 1320V1162.89h1.10V1320zM1294.52 1320V1162.89h1.10V1320zM1295.64 1320V1162.89h1.10V1320zM1296.77 1320V1168.50h1.10V1320zM1297.89 1320V1168.50h1.10V1320zM1299.01 1320V1168.50h1.10V1320zM1300.13 1320V1123.61h1.10V1320zM1301.25 1320V1123.61h1.10V1320zM1302.37 1320V1011.39h1.10V1320zM1303.49 1320V932.83h1.10V1320zM1304.62 1320V983.33h1.10V1320zM1305.74 1320V1028.22h1.10V1320zM1306.86 1320V1028.22h1.10V1320zM1307.98 1320V1162.89h1.10V1320zM1309.10 1320V1118.00h1.10V1320zM1310.22 1320V1017.00h1.10V1320zM1311.35 1320V1017.00h1.10V1320zM1312.47 1320V955.28h1.10V1320zM1313.59 1320V1162.89h1.10V1320zM1314.71 1320V1112.39h1.10V1320zM1315.83 1320V960.89h1.10V1320zM1316.95 1320V960.89h1.10V1320zM1318.07 1320V927.22h1.10V1320zM1319.20 1320V1084.33h1.10V1320zM1320.32 1320V1162.89h1.10V1320zM1321.44 1320V1174.11h1.10V1320zM1322.56 1320V1174.11h1.10V1320zM1323.68 1320V1000.17h1.10V1320zM1324.80 1320V1011.39h1.10V1320zM1325.92 1320V1011.39h1.10V1320zM1327.05 1320V1073.11h1.10V1320zM1328.17 1320V1073.11h1.10V1320zM1329.29 1320V1123.61h1.10V1320zM1330.41 1320V1146.06h1.10V1320zM1331.53 1320V1174.11h1.10V1320zM1332.65 1320V1134.83h1.10V1320zM1333.78 1320V1146.06h1.10V1320zM1334.90 1320V1146.06h1.10V1320zM1336.02 1320V1151.67h1.10V1320zM1337.14 1320V1151.67h1.10V1320zM1338.26 1320V1134.83h1.10V1320zM1339.38 1320V1162.89h1.10V1320zM1340.50 1320V1185.33h1.10V1320zM1341.63 1320V1185.33h1.10V1320zM1342.75 1320V1174.11h1.10V1320zM1343.87 1320V1202.17h1.10V1320zM1344.99 1320V1219.00h1.10V1320zM1346.11 1320V1230.22h1.10V1320zM1347.23 1320V1247.06h1.10V1320zM1348.36 1320V1247.06h1.10V1320zM1349.48 1320V1258.28h1.10V1320zM1350.60 1320V1269.50h1.10V1320zM1351.72 1320V1269.50h1.10V1320zM1527.80 1320V1258.28h1.10V1320zM1528.92 1320V1258.28h1.10V1320zM1530.04 1320V1258.28h1.10V1320zM1531.16 1320V1263.89h1.10V1320zM1532.29 1320V1258.28h1.10V1320zM1533.41 1320V1263.89h1.10V1320zM1534.53 1320V1263.89h1.10V1320zM1535.65 1320V1258.28h1.10V1320zM1536.77 1320V1263.89h1.10V1320zM1537.89 1320V1258.28h1.10V1320zM1539.02 1320V1258.28h1.10V1320zM1540.14 1320V1258.28h1.10V1320zM1541.26 1320V1174.11h1.10V1320zM1542.38 1320V1061.89h1.10V1320zM1543.50 1320V1067.50h1.10V1320zM1544.62 1320V1078.72h1.10V1320zM1545.74 1320V1089.94h1.10V1320zM1546.87 1320V1089.94h1.10V1320zM1547.99 1320V977.72h1.10V1320zM1549.11 1320V882.33h1.10V1320zM1550.23 1320V1000.17h1.10V1320zM1551.35 1320V1061.89h1.10V1320zM1552.47 1320V1061.89h1.10V1320zM1553.60 1320V1129.22h1.10V1320zM1554.72 1320V1033.83h1.10V1320zM1555.84 1320V1017.00h1.10V1320zM1556.96 1320V837.44h1.10V1320zM1558.08 1320V938.44h1.10V1320zM1559.20 1320V916.00h1.10V1320zM1560.32 1320V977.72h1.10V1320zM1561.45 1320V1095.56h1.10V1320zM1562.57 1320V1095.56h1.10V1320zM1563.69 1320V1129.22h1.10V1320zM1564.81 1320V1123.61h1.10V1320zM1565.93 1320V1067.50h1.10V1320zM1567.05 1320V1146.06h1.10V1320zM1568.17 1320V1146.06h1.10V1320zM1569.30 1320V1162.89h1.10V1320zM1570.42 1320V1022.61h1.10V1320zM1571.54 1320V1168.50h1.10V1320zM1572.66 1320V1162.89h1.10V1320zM1573.78 1320V1129.22h1.10V1320zM1574.90 1320V1129.22h1.10V1320zM1576.03 1320V1118.00h1.10V1320zM1577.15 1320V1084.33h1.10V1320zM1578.27 1320V1084.33h1.10V1320zM1579.39 1320V1084.33h1.10V1320zM1580.51 1320V1089.94h1.10V1320zM1581.63 1320V899.17h1.10V1320zM1582.75 1320V910.39h1.10V1320zM1583.88 1320V916.00h1.10V1320zM1585.00 1320V1095.56h1.10V1320zM1586.12 1320V1095.56h1.10V1320zM1587.24 1320V1084.33h1.10V1320zM1588.36 1320V1045.06h1.10V1320zM1589.48 1320V1067.50h1.10V1320zM1590.61 1320V1067.50h1.10V1320zM1591.73 1320V1157.28h1.10V1320zM1592.85 1320V1151.67h1.10V1320zM1593.97 1320V1157.28h1.10V1320zM1595.09 1320V1028.22h1.10V1320zM1596.21 1320V1185.33h1.10V1320zM1597.33 1320V1174.11h1.10V1320zM1598.46 1320V1185.33h1.10V1320zM1599.58 1320V1179.72h1.10V1320zM1600.70 1320V1179.72h1.10V1320zM1601.82 1320V1179.72h1.10V1320zM1602.94 1320V1134.83h1.10V1320zM1604.06 1320V1185.33h1.10V1320zM1605.19 1320V1190.94h1.10V1320zM1606.31 1320V1190.94h1.10V1320zM1607.43 1320V1185.33h1.10V1320zM1608.55 1320V1185.33h1.10V1320zM1609.67 1320V1190.94h1.10V1320zM1610.79 1320V1190.94h1.10V1320zM1611.91 1320V1202.17h1.10V1320zM1613.04 1320V1185.33h1.10V1320zM1614.16 1320V1185.33h1.10V1320zM1615.28 1320V1185.33h1.10V1320zM1616.40 1320V1185.33h1.10V1320zM1617.52 1320V1185.33h1.10V1320zM1618.64 1320V1190.94h1.10V1320zM1619.77 1320V1185.33h1.10V1320zM1620.89 1320V1185.33h1.10V1320zM1622.01 1320V1179.72h1.10V1320zM1623.13 1320V1056.28h1.10V1320zM1624.25 1320V994.56h1.10V1320zM1625.37 1320V1168.50h1.10V1320zM1626.49 1320V1174.11h1.10V1320zM1627.62 1320V1179.72h1.10V1320zM1628.74 1320V1179.72h1.10V1320zM1629.86 1320V988.94h1.10V1320zM1630.98 1320V1106.78h1.10V1320zM1632.10 1320V1106.78h1.10V1320zM1633.22 1320V1123.61h1.10V1320zM1634.35 1320V1123.61h1.10V1320zM1635.47 1320V871.11h1.10V1320zM1636.59 1320V887.94h1.10V1320zM1637.71 1320V1157.28h1.10V1320zM1638.83 1320V1207.78h1.10V1320zM1639.95 1320V1207.78h1.10V1320zM1641.07 1320V1005.78h1.10V1320zM1642.20 1320V1005.78h1.10V1320zM1643.32 1320V960.89h1.10V1320zM1644.44 1320V1129.22h1.10V1320zM1645.56 1320V1151.67h1.10V1320zM1646.68 1320V1151.67h1.10V1320zM1647.80 1320V1146.06h1.10V1320zM1648.92 1320V1207.78h1.10V1320zM1650.05 1320V1196.56h1.10V1320zM1651.17 1320V1196.56h1.10V1320zM1652.29 1320V1196.56h1.10V1320zM1653.41 1320V1106.78h1.10V1320zM1654.53 1320V960.89h1.10V1320zM1655.65 1320V1134.83h1.10V1320zM1656.78 1320V1157.28h1.10V1320zM1657.90 1320V1157.28h1.10V1320zM1659.02 1320V1174.11h1.10V1320zM1660.14 1320V1185.33h1.10V1320zM1661.26 1320V1179.72h1.10V1320zM1662.38 1320V1179.72h1.10V1320zM1663.50 1320V1179.72h1.10V1320zM1664.63 1320V1151.67h1.10V1320zM1665.75 1320V1190.94h1.10V1320zM1666.87 1320V1202.17h1.10V1320zM1667.99 1320V1202.17h1.10V1320zM1669.11 1320V1213.39h1.10V1320zM1670.23 1320V1263.89h1.10V1320zM1671.36 1320V1275.11h1.10V1320zM1672.48 1320V1275.11h1.10V1320zM1673.60 1320V1291.94h1.10V1320zM1674.72 1320V1286.33h1.10V1320zM1850.80 1320V1258.28h1.10V1320zM1851.92 1320V1263.89h1.10V1320zM1853.04 1320V1263.89h1.10V1320zM1854.16 1320V1258.28h1.10V1320zM1855.29 1320V1263.89h1.10V1320zM1856.41 1320V1258.28h1.10V1320zM1857.53 1320V1258.28h1.10V1320zM1858.65 1320V1224.61h1.10V1320zM1859.77 1320V1151.67h1.10V1320zM1860.89 1320V1078.72h1.10V1320zM1862.02 1320V1078.72h1.10V1320zM1863.14 1320V1073.11h1.10V1320zM1864.26 1320V1084.33h1.10V1320zM1865.38 1320V944.06h1.10V1320zM1866.50 1320V921.61h1.10V1320zM1867.62 1320V921.61h1.10V1320zM1868.74 1320V921.61h1.10V1320zM1869.87 1320V1045.06h1.10V1320zM1870.99 1320V904.78h1.10V1320zM1872.11 1320V1033.83h1.10V1320zM1873.23 1320V1017.00h1.10V1320zM1874.35 1320V1022.61h1.10V1320zM1875.47 1320V882.33h1.10V1320zM1876.60 1320V977.72h1.10V1320zM1877.72 1320V977.72h1.10V1320zM1878.84 1320V1078.72h1.10V1320zM1879.96 1320V1078.72h1.10V1320zM1881.08 1320V1084.33h1.10V1320zM1882.20 1320V1157.28h1.10V1320zM1883.32 1320V1056.28h1.10V1320zM1884.45 1320V1067.50h1.10V1320zM1885.57 1320V1168.50h1.10V1320zM1886.69 1320V1168.50h1.10V1320zM1887.81 1320V1174.11h1.10V1320zM1888.93 1320V1168.50h1.10V1320zM1890.05 1320V1146.06h1.10V1320zM1891.17 1320V904.78h1.10V1320zM1892.30 1320V955.28h1.10V1320zM1893.42 1320V955.28h1.10V1320zM1894.54 1320V1050.67h1.10V1320zM1895.66 1320V927.22h1.10V1320zM1896.78 1320V988.94h1.10V1320zM1897.90 1320V1061.89h1.10V1320zM1899.03 1320V1162.89h1.10V1320zM1900.15 1320V1162.89h1.10V1320zM1901.27 1320V1039.44h1.10V1320zM1902.39 1320V955.28h1.10V1320zM1903.51 1320V1118.00h1.10V1320zM1904.63 1320V1118.00h1.10V1320zM1905.75 1320V1196.56h1.10V1320zM1906.88 1320V1196.56h1.10V1320zM1908.00 1320V1022.61h1.10V1320zM1909.12 1320V1073.11h1.10V1320zM1910.24 1320V1179.72h1.10V1320zM1911.36 1320V1179.72h1.10V1320zM1912.48 1320V1179.72h1.10V1320zM1913.61 1320V1190.94h1.10V1320zM1914.73 1320V1179.72h1.10V1320zM1915.85 1320V1129.22h1.10V1320zM1916.97 1320V1129.22h1.10V1320zM1918.09 1320V1129.22h1.10V1320zM1919.21 1320V1129.22h1.10V1320zM1920.33 1320V1106.78h1.10V1320zM1921.46 1320V1112.39h1.10V1320zM1922.58 1320V1140.44h1.10V1320zM1923.70 1320V1112.39h1.10V1320zM1924.82 1320V1151.67h1.10V1320zM1925.94 1320V1151.67h1.10V1320zM1927.06 1320V1185.33h1.10V1320zM1928.19 1320V1185.33h1.10V1320zM1929.31 1320V1185.33h1.10V1320zM1930.43 1320V1202.17h1.10V1320zM1931.55 1320V1196.56h1.10V1320zM1932.67 1320V1196.56h1.10V1320zM1933.79 1320V1190.94h1.10V1320zM1934.91 1320V1202.17h1.10V1320zM1936.04 1320V1196.56h1.10V1320zM1937.16 1320V1202.17h1.10V1320zM1938.28 1320V1202.17h1.10V1320zM1939.40 1320V1207.78h1.10V1320zM1940.52 1320V1202.17h1.10V1320zM1941.64 1320V1202.17h1.10V1320zM1942.77 1320V1196.56h1.10V1320zM1943.89 1320V1196.56h1.10V1320zM1945.01 1320V1196.56h1.10V1320zM1946.13 1320V1112.39h1.10V1320zM1947.25 1320V994.56h1.10V1320zM1948.37 1320V983.33h1.10V1320zM1949.49 1320V960.89h1.10V1320zM1950.62 1320V927.22h1.10V1320zM1951.74 1320V1073.11h1.10V1320zM1952.86 1320V1095.56h1.10V1320zM1953.98 1320V1095.56h1.10V1320zM1955.10 1320V1196.56h1.10V1320zM1956.22 1320V1213.39h1.10V1320zM1957.35 1320V1202.17h1.10V1320zM1958.47 1320V1202.17h1.10V1320zM1959.59 1320V1207.78h1.10V1320zM1960.71 1320V1213.39h1.10V1320zM1961.83 1320V1207.78h1.10V1320zM1962.95 1320V1196.56h1.10V1320zM1964.07 1320V983.33h1.10V1320zM1965.20 1320V1207.78h1.10V1320zM1966.32 1320V994.56h1.10V1320zM1967.44 1320V1078.72h1.10V1320zM1968.56 1320V1196.56h1.10V1320zM1969.68 1320V1202.17h1.10V1320zM1970.80 1320V1202.17h1.10V1320zM1971.92 1320V1174.11h1.10V1320zM1973.05 1320V1056.28h1.10V1320zM1974.17 1320V994.56h1.10V1320zM1975.29 1320V1106.78h1.10V1320zM1976.41 1320V1157.28h1.10V1320zM1977.53 1320V1157.28h1.10V1320zM1978.65 1320V1185.33h1.10V1320zM1979.78 1320V1112.39h1.10V1320zM1980.90 1320V1112.39h1.10V1320zM1982.02 1320V1196.56h1.10V1320zM1983.14 1320V1196.56h1.10V1320zM1984.26 1320V1196.56h1.10V1320zM1985.38 1320V1146.06h1.10V1320zM1986.50 1320V1174.11h1.10V1320zM1987.63 1320V1174.11h1.10V1320zM1988.75 1320V1174.11h1.10V1320zM1989.87 1320V1185.33h1.10V1320zM1990.99 1320V1185.33h1.10V1320zM1992.11 1320V1196.56h1.10V1320zM1993.23 1320V1207.78h1.10V1320zM1994.36 1320V1258.28h1.10V1320zM1995.48 1320V1269.50h1.10V1320zM1996.60 1320V1269.50h1.10V1320zM1997.72 1320V1275.11h1.10V1320zM2173.80 1320V1286.33h1.10V1320zM2174.92 1320V1291.94h1.10V1320zM2176.04 1320V1286.33h1.10V1320zM2177.16 1320V1286.33h1.10V1320zM2178.29 1320V1280.72h1.10V1320zM2179.41 1320V1286.33h1.10V1320zM2180.53 1320V1286.33h1.10V1320zM2181.65 1320V1286.33h1.10V1320zM2182.77 1320V1286.33h1.10V1320zM2183.89 1320V1280.72h1.10V1320zM2185.02 1320V1235.83h1.10V1320zM2186.14 1320V1123.61h1.10V1320zM2187.26 1320V1078.72h1.10V1320zM2188.38 1320V1118.00h1.10V1320zM2189.50 1320V882.33h1.10V1320zM2190.62 1320V899.17h1.10V1320zM2191.74 1320V988.94h1.10V1320zM2192.87 1320V927.22h1.10V1320zM2193.99 1320V1022.61h1.10V1320zM2195.11 1320V1151.67h1.10V1320zM2196.23 1320V1162.89h1.10V1320zM2197.35 1320V1174.11h1.10V1320zM2198.47 1320V1179.72h1.10V1320zM2199.60 1320V1129.22h1.10V1320zM2200.72 1320V1118.00h1.10V1320zM2201.84 1320V1157.28h1.10V1320zM2202.96 1320V1179.72h1.10V1320zM2204.08 1320V1190.94h1.10V1320zM2205.20 1320V1134.83h1.10V1320zM2206.32 1320V1151.67h1.10V1320zM2207.45 1320V1157.28h1.10V1320zM2208.57 1320V1101.17h1.10V1320zM2209.69 1320V1084.33h1.10V1320zM2210.81 1320V1067.50h1.10V1320zM2211.93 1320V1028.22h1.10V1320zM2213.05 1320V1073.11h1.10V1320zM2214.17 1320V1028.22h1.10V1320zM2215.30 1320V1011.39h1.10V1320zM2216.42 1320V1123.61h1.10V1320zM2217.54 1320V1106.78h1.10V1320zM2218.66 1320V1067.50h1.10V1320zM2219.78 1320V1157.28h1.10V1320zM2220.90 1320V1118.00h1.10V1320zM2222.03 1320V1129.22h1.10V1320zM2223.15 1320V1101.17h1.10V1320zM2224.27 1320V1202.17h1.10V1320zM2225.39 1320V1202.17h1.10V1320zM2226.51 1320V1190.94h1.10V1320zM2227.63 1320V1196.56h1.10V1320zM2228.75 1320V1185.33h1.10V1320zM2229.88 1320V1140.44h1.10V1320zM2231.00 1320V1146.06h1.10V1320zM2232.12 1320V1106.78h1.10V1320zM2233.24 1320V876.72h1.10V1320zM2234.36 1320V1005.78h1.10V1320zM2235.48 1320V1140.44h1.10V1320zM2236.61 1320V1118.00h1.10V1320zM2237.73 1320V972.11h1.10V1320zM2238.85 1320V865.50h1.10V1320zM2239.97 1320V1101.17h1.10V1320zM2241.09 1320V1106.78h1.10V1320zM2242.21 1320V1162.89h1.10V1320zM2243.33 1320V1140.44h1.10V1320zM2244.46 1320V1140.44h1.10V1320zM2245.58 1320V1146.06h1.10V1320zM2246.70 1320V1157.28h1.10V1320zM2247.82 1320V1151.67h1.10V1320zM2248.94 1320V1174.11h1.10V1320zM2250.06 1320V1190.94h1.10V1320zM2251.19 1320V1179.72h1.10V1320zM2252.31 1320V1185.33h1.10V1320zM2253.43 1320V1202.17h1.10V1320zM2254.55 1320V1190.94h1.10V1320zM2255.67 1320V1196.56h1.10V1320zM2256.79 1320V1190.94h1.10V1320zM2257.91 1320V1202.17h1.10V1320zM2259.04 1320V1196.56h1.10V1320zM2260.16 1320V1207.78h1.10V1320zM2261.28 1320V1202.17h1.10V1320zM2262.40 1320V1207.78h1.10V1320zM2263.52 1320V1207.78h1.10V1320zM2264.64 1320V1213.39h1.10V1320zM2265.77 1320V1196.56h1.10V1320zM2266.89 1320V966.50h1.10V1320zM2268.01 1320V988.94h1.10V1320zM2269.13 1320V1056.28h1.10V1320zM2270.25 1320V1061.89h1.10V1320zM2271.37 1320V977.72h1.10V1320zM2272.49 1320V1050.67h1.10V1320zM2273.62 1320V977.72h1.10V1320zM2274.74 1320V994.56h1.10V1320zM2275.86 1320V899.17h1.10V1320zM2276.98 1320V1067.50h1.10V1320zM2278.10 1320V1050.67h1.10V1320zM2279.22 1320V1084.33h1.10V1320zM2280.35 1320V1129.22h1.10V1320zM2281.47 1320V921.61h1.10V1320zM2282.59 1320V944.06h1.10V1320zM2283.71 1320V1140.44h1.10V1320zM2284.83 1320V1140.44h1.10V1320zM2285.95 1320V1174.11h1.10V1320zM2287.07 1320V1196.56h1.10V1320zM2288.20 1320V1202.17h1.10V1320zM2289.32 1320V1202.17h1.10V1320zM2290.44 1320V1213.39h1.10V1320zM2291.56 1320V1213.39h1.10V1320zM2292.68 1320V1196.56h1.10V1320zM2293.80 1320V1196.56h1.10V1320zM2294.92 1320V1084.33h1.10V1320zM2296.05 1320V921.61h1.10V1320zM2297.17 1320V944.06h1.10V1320zM2298.29 1320V955.28h1.10V1320zM2299.41 1320V1151.67h1.10V1320zM2300.53 1320V1140.44h1.10V1320zM2301.65 1320V1162.89h1.10V1320zM2302.78 1320V1190.94h1.10V1320zM2303.90 1320V1207.78h1.10V1320zM2305.02 1320V1095.56h1.10V1320zM2306.14 1320V1011.39h1.10V1320zM2307.26 1320V1162.89h1.10V1320zM2308.38 1320V1157.28h1.10V1320zM2309.50 1320V1162.89h1.10V1320zM2310.63 1320V1207.78h1.10V1320zM2311.75 1320V1207.78h1.10V1320zM2312.87 1320V1202.17h1.10V1320zM2313.99 1320V1207.78h1.10V1320zM2315.11 1320V1207.78h1.10V1320zM2316.23 1320V1247.06h1.10V1320z" fill="#22906f"/>
</g>
<line x1="154.79999999999998" y1="815" x2="154.79999999999998" y2="1321" stroke="#6a6a6a" stroke-width="1.6"/>
<line x1="155.6" y1="1320.9" x2="2417.6" y2="1320.9" stroke="#707070" stroke-width="1.8"/>
<line x1="144" y1="1320.5" x2="155" y2="1320.5" stroke="#a8a8a8" stroke-width="1"/>
<text x="133.5" y="1326.3" font-size="19.8" fill="#444" text-anchor="end" textLength="11.5" lengthAdjust="spacingAndGlyphs">0</text>
<line x1="144" y1="1264.5" x2="155" y2="1264.5" stroke="#a8a8a8" stroke-width="1"/>
<text x="133.5" y="1270.3" font-size="19.8" fill="#444" text-anchor="end" textLength="23" lengthAdjust="spacingAndGlyphs">10</text>
<line x1="144" y1="1208.5" x2="155" y2="1208.5" stroke="#a8a8a8" stroke-width="1"/>
<text x="133.5" y="1214.3" font-size="19.8" fill="#444" text-anchor="end" textLength="23" lengthAdjust="spacingAndGlyphs">20</text>
<line x1="144" y1="1152.5" x2="155" y2="1152.5" stroke="#a8a8a8" stroke-width="1"/>
<text x="133.5" y="1158.3" font-size="19.8" fill="#444" text-anchor="end" textLength="23" lengthAdjust="spacingAndGlyphs">30</text>
<line x1="144" y1="1096.5" x2="155" y2="1096.5" stroke="#a8a8a8" stroke-width="1"/>
<text x="133.5" y="1102.3" font-size="19.8" fill="#444" text-anchor="end" textLength="23" lengthAdjust="spacingAndGlyphs">40</text>
<line x1="144" y1="1039.5" x2="155" y2="1039.5" stroke="#a8a8a8" stroke-width="1"/>
<text x="133.5" y="1045.3" font-size="19.8" fill="#444" text-anchor="end" textLength="23" lengthAdjust="spacingAndGlyphs">50</text>
<line x1="144" y1="983.5" x2="155" y2="983.5" stroke="#a8a8a8" stroke-width="1"/>
<text x="133.5" y="989.3" font-size="19.8" fill="#444" text-anchor="end" textLength="23" lengthAdjust="spacingAndGlyphs">60</text>
<line x1="144" y1="927.5" x2="155" y2="927.5" stroke="#a8a8a8" stroke-width="1"/>
<text x="133.5" y="933.3" font-size="19.8" fill="#444" text-anchor="end" textLength="23" lengthAdjust="spacingAndGlyphs">70</text>
<line x1="144" y1="871.5" x2="155" y2="871.5" stroke="#a8a8a8" stroke-width="1"/>
<text x="133.5" y="877.3" font-size="19.8" fill="#444" text-anchor="end" textLength="23" lengthAdjust="spacingAndGlyphs">80</text>
<line x1="144" y1="815.5" x2="155" y2="815.5" stroke="#a8a8a8" stroke-width="1"/>
<text x="133.5" y="821.3" font-size="19.8" fill="#444" text-anchor="end" textLength="23" lengthAdjust="spacingAndGlyphs">90</text>
<text transform="translate(86.3,1067.5) rotate(-90)" font-size="22" fill="#444" text-anchor="middle" textLength="30.5" lengthAdjust="spacingAndGlyphs">kW</text>
<line x1="155.5" y1="1322" x2="155.5" y2="1332" stroke="#999" stroke-width="1.4"/>
<text x="155.5" y="1356.6" font-size="19.6" fill="#000" text-anchor="middle" textLength="76" lengthAdjust="spacingAndGlyphs">ven. 10</text>
<line x1="478.5" y1="1322" x2="478.5" y2="1332" stroke="#999" stroke-width="1.4"/>
<text x="478.5" y="1356.6" font-size="19.6" fill="#000" text-anchor="middle" textLength="81.3" lengthAdjust="spacingAndGlyphs">sam. 11</text>
<line x1="801.5" y1="1322" x2="801.5" y2="1332" stroke="#999" stroke-width="1.4"/>
<text x="801.5" y="1356.6" font-size="19.6" fill="#000" text-anchor="middle" textLength="77" lengthAdjust="spacingAndGlyphs">dim. 12</text>
<line x1="1124.5" y1="1322" x2="1124.5" y2="1332" stroke="#999" stroke-width="1.4"/>
<text x="1124.5" y="1356.6" font-size="19.6" fill="#000" text-anchor="middle" textLength="70.3" lengthAdjust="spacingAndGlyphs">lun. 13</text>
<line x1="1447.5" y1="1322" x2="1447.5" y2="1332" stroke="#999" stroke-width="1.4"/>
<text x="1447.5" y="1356.6" font-size="19.6" fill="#000" text-anchor="middle" textLength="76.4" lengthAdjust="spacingAndGlyphs">mar. 14</text>
<line x1="1770.5" y1="1322" x2="1770.5" y2="1332" stroke="#999" stroke-width="1.4"/>
<text x="1770.5" y="1356.6" font-size="19.6" fill="#000" text-anchor="middle" textLength="76.4" lengthAdjust="spacingAndGlyphs">mer. 15</text>
<line x1="2093.5" y1="1322" x2="2093.5" y2="1332" stroke="#999" stroke-width="1.4"/>
<text x="2093.5" y="1356.6" font-size="19.6" fill="#000" text-anchor="middle" textLength="72.5" lengthAdjust="spacingAndGlyphs">jeu. 16</text>
<rect x="561.5" y="805.5" width="413" height="59" rx="9.5" fill="#fff" stroke="#808080" stroke-width="3"/>
<text x="608.6" y="845.8" font-size="28" fill="#000" textLength="338.1" lengthAdjust="spacingAndGlyphs" xml:space="preserve">Consommation: 2 599 kWh</text>
<rect x="1099.5" y="805.5" width="413" height="59" rx="9.5" fill="#fff" stroke="#808080" stroke-width="3"/>
<text x="1220.5" y="845.8" font-size="28" fill="#000" textLength="191.0" lengthAdjust="spacingAndGlyphs" xml:space="preserve">P Max :  86 kW</text>
<rect x="1609.5" y="805.5" width="413" height="59" rx="9.5" fill="#fff" stroke="#808080" stroke-width="3"/>
<text x="1744.5" y="845.8" font-size="28" fill="#000" textLength="163.0" lengthAdjust="spacingAndGlyphs" xml:space="preserve">P min : 1 kW</text>
<rect x="2322.3" y="1322.3" width="115.5" height="56.6" fill="#fff"/>
<path d="M2358.7 1340.9 A12.2 12.2 0 1 0 2361 1351 H2349.5" fill="none" stroke="#0b6fbe" stroke-width="4.8" stroke-linecap="round" stroke-linejoin="round"/>
<path d="M2370.2 1347.2 A6.7 6.7 0 1 1 2382.2 1351 L2372.6 1360.7 H2385.9" fill="none" stroke="#0b6fbe" stroke-width="4.8" stroke-linecap="butt" stroke-linejoin="miter"/>
<path d="M2392.3 1325.2 L2383.6 1338.3 L2390.2 1336.6 L2389 1363.4 L2399.8 1338.9 L2392.6 1340.2z" fill="#e9602c"/>
<path d="M2402.9 1339.2H2424.5L2420.3 1344.6H2399.5z" fill="#f2921f"/>
<path d="M2399.4 1348.3H2418.5L2414.3 1353.8H2396z" fill="#f2921f"/>
<path d="M2395.9 1357.5H2416L2411.8 1363.1H2392.5z" fill="#f2921f"/>
<text x="2393.8" y="1334.6" font-size="7.3" font-weight="bold" fill="#e9602c" textLength="30" lengthAdjust="spacingAndGlyphs">FRANCE</text>
<text x="2339.8" y="1368.2" font-size="4.1" fill="#2f83c6" textLength="74" lengthAdjust="spacingAndGlyphs">Optimisation des ressources énergétiques</text>
</svg></body></html>
